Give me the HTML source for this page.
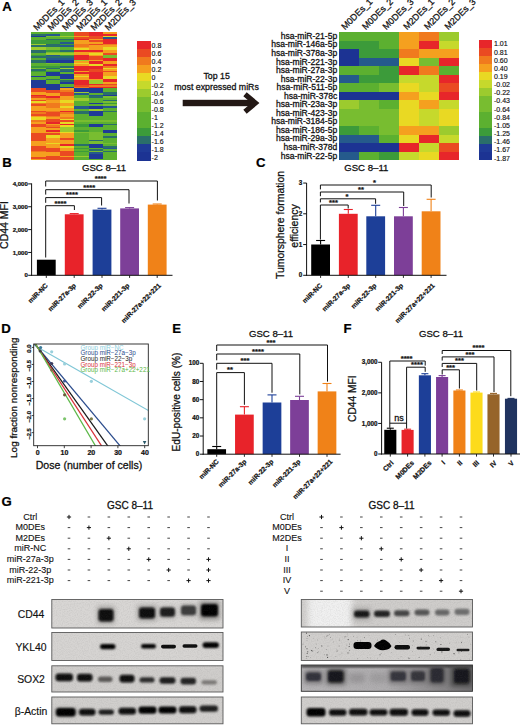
<!DOCTYPE html>
<html><head><meta charset="utf-8"><title>Figure</title>
<style>
html,body{margin:0;padding:0;background:#ffffff;}
body{width:520px;height:725px;overflow:hidden;font-family:"Liberation Sans",sans-serif;}
svg{display:block;}
svg text{font-family:"Liberation Sans",sans-serif;}
</style></head><body>
<svg width="520" height="725" viewBox="0 0 520 725">
<rect x="0" y="0" width="520" height="725" fill="#ffffff"/>
<g shape-rendering="crispEdges">
<rect x="31.30" y="32.30" width="14.52" height="1.75" fill="#5cb030" />
<rect x="45.62" y="32.30" width="14.52" height="1.75" fill="#5cb030" />
<rect x="59.93" y="32.30" width="14.52" height="1.75" fill="#5cb030" />
<rect x="74.25" y="32.30" width="14.52" height="1.75" fill="#ea4a22" />
<rect x="88.57" y="32.30" width="14.52" height="1.75" fill="#e7262a" />
<rect x="102.88" y="32.30" width="14.52" height="1.75" fill="#f5a01f" />
<rect x="31.30" y="33.90" width="14.52" height="1.75" fill="#2a6e6a" />
<rect x="45.62" y="33.90" width="14.52" height="1.75" fill="#255a8c" />
<rect x="59.93" y="33.90" width="14.52" height="1.75" fill="#5cb030" />
<rect x="74.25" y="33.90" width="14.52" height="1.75" fill="#ea4a22" />
<rect x="88.57" y="33.90" width="14.52" height="1.75" fill="#e7262a" />
<rect x="102.88" y="33.90" width="14.52" height="1.75" fill="#e7262a" />
<rect x="31.30" y="35.50" width="14.52" height="1.75" fill="#1f3a97" />
<rect x="45.62" y="35.50" width="14.52" height="1.75" fill="#78bd30" />
<rect x="59.93" y="35.50" width="14.52" height="1.75" fill="#9ccb2e" />
<rect x="74.25" y="35.50" width="14.52" height="1.75" fill="#f5a01f" />
<rect x="88.57" y="35.50" width="14.52" height="1.75" fill="#ea4a22" />
<rect x="102.88" y="35.50" width="14.52" height="1.75" fill="#e9d923" />
<rect x="31.30" y="37.10" width="14.52" height="1.75" fill="#5cb030" />
<rect x="45.62" y="37.10" width="14.52" height="1.75" fill="#5cb030" />
<rect x="59.93" y="37.10" width="14.52" height="1.75" fill="#5cb030" />
<rect x="74.25" y="37.10" width="14.52" height="1.75" fill="#ea4a22" />
<rect x="88.57" y="37.10" width="14.52" height="1.75" fill="#ea4a22" />
<rect x="102.88" y="37.10" width="14.52" height="1.75" fill="#255a8c" />
<rect x="31.30" y="38.70" width="14.52" height="1.75" fill="#5cb030" />
<rect x="45.62" y="38.70" width="14.52" height="1.75" fill="#2a6e6a" />
<rect x="59.93" y="38.70" width="14.52" height="1.75" fill="#2a6e6a" />
<rect x="74.25" y="38.70" width="14.52" height="1.75" fill="#e7262a" />
<rect x="88.57" y="38.70" width="14.52" height="1.75" fill="#f5a01f" />
<rect x="102.88" y="38.70" width="14.52" height="1.75" fill="#e7262a" />
<rect x="31.30" y="40.30" width="14.52" height="1.75" fill="#3c9b3a" />
<rect x="45.62" y="40.30" width="14.52" height="1.75" fill="#3c9b3a" />
<rect x="59.93" y="40.30" width="14.52" height="1.75" fill="#3c9b3a" />
<rect x="74.25" y="40.30" width="14.52" height="1.75" fill="#f5a01f" />
<rect x="88.57" y="40.30" width="14.52" height="1.75" fill="#ea4a22" />
<rect x="102.88" y="40.30" width="14.52" height="1.75" fill="#e7262a" />
<rect x="31.30" y="41.90" width="14.52" height="1.75" fill="#3c9b3a" />
<rect x="45.62" y="41.90" width="14.52" height="1.75" fill="#3c9b3a" />
<rect x="59.93" y="41.90" width="14.52" height="1.75" fill="#255a8c" />
<rect x="74.25" y="41.90" width="14.52" height="1.75" fill="#f5a01f" />
<rect x="88.57" y="41.90" width="14.52" height="1.75" fill="#f5a01f" />
<rect x="102.88" y="41.90" width="14.52" height="1.75" fill="#e7262a" />
<rect x="31.30" y="43.50" width="14.52" height="1.75" fill="#9ccb2e" />
<rect x="45.62" y="43.50" width="14.52" height="1.75" fill="#2a6e6a" />
<rect x="59.93" y="43.50" width="14.52" height="1.75" fill="#3c9b3a" />
<rect x="74.25" y="43.50" width="14.52" height="1.75" fill="#f07a1e" />
<rect x="88.57" y="43.50" width="14.52" height="1.75" fill="#ea4a22" />
<rect x="102.88" y="43.50" width="14.52" height="1.75" fill="#f07a1e" />
<rect x="31.30" y="45.10" width="14.52" height="1.75" fill="#2a6e6a" />
<rect x="45.62" y="45.10" width="14.52" height="1.75" fill="#2a6e6a" />
<rect x="59.93" y="45.10" width="14.52" height="1.75" fill="#255a8c" />
<rect x="74.25" y="45.10" width="14.52" height="1.75" fill="#f07a1e" />
<rect x="88.57" y="45.10" width="14.52" height="1.75" fill="#f5a01f" />
<rect x="102.88" y="45.10" width="14.52" height="1.75" fill="#f5a01f" />
<rect x="31.30" y="46.70" width="14.52" height="1.75" fill="#9ccb2e" />
<rect x="45.62" y="46.70" width="14.52" height="1.75" fill="#78bd30" />
<rect x="59.93" y="46.70" width="14.52" height="1.75" fill="#5cb030" />
<rect x="74.25" y="46.70" width="14.52" height="1.75" fill="#f5a01f" />
<rect x="88.57" y="46.70" width="14.52" height="1.75" fill="#f5a01f" />
<rect x="102.88" y="46.70" width="14.52" height="1.75" fill="#e9d923" />
<rect x="31.30" y="48.30" width="14.52" height="1.75" fill="#9ccb2e" />
<rect x="45.62" y="48.30" width="14.52" height="1.75" fill="#78bd30" />
<rect x="59.93" y="48.30" width="14.52" height="1.75" fill="#5cb030" />
<rect x="74.25" y="48.30" width="14.52" height="1.75" fill="#e9d923" />
<rect x="88.57" y="48.30" width="14.52" height="1.75" fill="#f5a01f" />
<rect x="102.88" y="48.30" width="14.52" height="1.75" fill="#e9d923" />
<rect x="31.30" y="49.90" width="14.52" height="1.75" fill="#2a6e6a" />
<rect x="45.62" y="49.90" width="14.52" height="1.75" fill="#3c9b3a" />
<rect x="59.93" y="49.90" width="14.52" height="1.75" fill="#2a6e6a" />
<rect x="74.25" y="49.90" width="14.52" height="1.75" fill="#e7262a" />
<rect x="88.57" y="49.90" width="14.52" height="1.75" fill="#e7262a" />
<rect x="102.88" y="49.90" width="14.52" height="1.75" fill="#f5a01f" />
<rect x="31.30" y="51.50" width="14.52" height="1.75" fill="#2a6e6a" />
<rect x="45.62" y="51.50" width="14.52" height="1.75" fill="#78bd30" />
<rect x="59.93" y="51.50" width="14.52" height="1.75" fill="#78bd30" />
<rect x="74.25" y="51.50" width="14.52" height="1.75" fill="#f5a01f" />
<rect x="88.57" y="51.50" width="14.52" height="1.75" fill="#f5a01f" />
<rect x="102.88" y="51.50" width="14.52" height="1.75" fill="#f5a01f" />
<rect x="31.30" y="53.10" width="14.52" height="1.75" fill="#5cb030" />
<rect x="45.62" y="53.10" width="14.52" height="1.75" fill="#9ccb2e" />
<rect x="59.93" y="53.10" width="14.52" height="1.75" fill="#9ccb2e" />
<rect x="74.25" y="53.10" width="14.52" height="1.75" fill="#f5a01f" />
<rect x="88.57" y="53.10" width="14.52" height="1.75" fill="#e9d923" />
<rect x="102.88" y="53.10" width="14.52" height="1.75" fill="#ea4a22" />
<rect x="31.30" y="54.70" width="14.52" height="1.75" fill="#3c9b3a" />
<rect x="45.62" y="54.70" width="14.52" height="1.75" fill="#255a8c" />
<rect x="59.93" y="54.70" width="14.52" height="1.75" fill="#3c9b3a" />
<rect x="74.25" y="54.70" width="14.52" height="1.75" fill="#e7262a" />
<rect x="88.57" y="54.70" width="14.52" height="1.75" fill="#f5a01f" />
<rect x="102.88" y="54.70" width="14.52" height="1.75" fill="#78bd30" />
<rect x="31.30" y="56.30" width="14.52" height="1.75" fill="#2a6e6a" />
<rect x="45.62" y="56.30" width="14.52" height="1.75" fill="#2a6e6a" />
<rect x="59.93" y="56.30" width="14.52" height="1.75" fill="#2a6e6a" />
<rect x="74.25" y="56.30" width="14.52" height="1.75" fill="#e7262a" />
<rect x="88.57" y="56.30" width="14.52" height="1.75" fill="#ea4a22" />
<rect x="102.88" y="56.30" width="14.52" height="1.75" fill="#78bd30" />
<rect x="31.30" y="57.90" width="14.52" height="1.75" fill="#5cb030" />
<rect x="45.62" y="57.90" width="14.52" height="1.75" fill="#255a8c" />
<rect x="59.93" y="57.90" width="14.52" height="1.75" fill="#255a8c" />
<rect x="74.25" y="57.90" width="14.52" height="1.75" fill="#e7262a" />
<rect x="88.57" y="57.90" width="14.52" height="1.75" fill="#ea4a22" />
<rect x="102.88" y="57.90" width="14.52" height="1.75" fill="#e7262a" />
<rect x="31.30" y="59.50" width="14.52" height="1.75" fill="#2a6e6a" />
<rect x="45.62" y="59.50" width="14.52" height="1.75" fill="#1f3a97" />
<rect x="59.93" y="59.50" width="14.52" height="1.75" fill="#1f3a97" />
<rect x="74.25" y="59.50" width="14.52" height="1.75" fill="#9ccb2e" />
<rect x="88.57" y="59.50" width="14.52" height="1.75" fill="#f5a01f" />
<rect x="102.88" y="59.50" width="14.52" height="1.75" fill="#e7262a" />
<rect x="31.30" y="61.10" width="14.52" height="1.75" fill="#2a6e6a" />
<rect x="45.62" y="61.10" width="14.52" height="1.75" fill="#1f3a97" />
<rect x="59.93" y="61.10" width="14.52" height="1.75" fill="#1f3a97" />
<rect x="74.25" y="61.10" width="14.52" height="1.75" fill="#f5a01f" />
<rect x="88.57" y="61.10" width="14.52" height="1.75" fill="#e7262a" />
<rect x="102.88" y="61.10" width="14.52" height="1.75" fill="#f5a01f" />
<rect x="31.30" y="62.70" width="14.52" height="1.75" fill="#5cb030" />
<rect x="45.62" y="62.70" width="14.52" height="1.75" fill="#78bd30" />
<rect x="59.93" y="62.70" width="14.52" height="1.75" fill="#5cb030" />
<rect x="74.25" y="62.70" width="14.52" height="1.75" fill="#e9d923" />
<rect x="88.57" y="62.70" width="14.52" height="1.75" fill="#e7262a" />
<rect x="102.88" y="62.70" width="14.52" height="1.75" fill="#f5a01f" />
<rect x="31.30" y="64.30" width="14.52" height="1.75" fill="#5cb030" />
<rect x="45.62" y="64.30" width="14.52" height="1.75" fill="#5cb030" />
<rect x="59.93" y="64.30" width="14.52" height="1.75" fill="#5cb030" />
<rect x="74.25" y="64.30" width="14.52" height="1.75" fill="#f5a01f" />
<rect x="88.57" y="64.30" width="14.52" height="1.75" fill="#e9d923" />
<rect x="102.88" y="64.30" width="14.52" height="1.75" fill="#e7262a" />
<rect x="31.30" y="65.90" width="14.52" height="1.75" fill="#3c9b3a" />
<rect x="45.62" y="65.90" width="14.52" height="1.75" fill="#3c9b3a" />
<rect x="59.93" y="65.90" width="14.52" height="1.75" fill="#2a6e6a" />
<rect x="74.25" y="65.90" width="14.52" height="1.75" fill="#e7262a" />
<rect x="88.57" y="65.90" width="14.52" height="1.75" fill="#e7262a" />
<rect x="102.88" y="65.90" width="14.52" height="1.75" fill="#f07a1e" />
<rect x="31.30" y="67.50" width="14.52" height="1.75" fill="#78bd30" />
<rect x="45.62" y="67.50" width="14.52" height="1.75" fill="#2a6e6a" />
<rect x="59.93" y="67.50" width="14.52" height="1.75" fill="#9ccb2e" />
<rect x="74.25" y="67.50" width="14.52" height="1.75" fill="#e7262a" />
<rect x="88.57" y="67.50" width="14.52" height="1.75" fill="#e7262a" />
<rect x="102.88" y="67.50" width="14.52" height="1.75" fill="#e9d923" />
<rect x="31.30" y="69.10" width="14.52" height="1.75" fill="#2a6e6a" />
<rect x="45.62" y="69.10" width="14.52" height="1.75" fill="#5cb030" />
<rect x="59.93" y="69.10" width="14.52" height="1.75" fill="#2a6e6a" />
<rect x="74.25" y="69.10" width="14.52" height="1.75" fill="#e7262a" />
<rect x="88.57" y="69.10" width="14.52" height="1.75" fill="#ea4a22" />
<rect x="102.88" y="69.10" width="14.52" height="1.75" fill="#f5a01f" />
<rect x="31.30" y="70.70" width="14.52" height="1.75" fill="#3c9b3a" />
<rect x="45.62" y="70.70" width="14.52" height="1.75" fill="#3c9b3a" />
<rect x="59.93" y="70.70" width="14.52" height="1.75" fill="#255a8c" />
<rect x="74.25" y="70.70" width="14.52" height="1.75" fill="#f5a01f" />
<rect x="88.57" y="70.70" width="14.52" height="1.75" fill="#ea4a22" />
<rect x="102.88" y="70.70" width="14.52" height="1.75" fill="#ea4a22" />
<rect x="31.30" y="72.30" width="14.52" height="1.75" fill="#5cb030" />
<rect x="45.62" y="72.30" width="14.52" height="1.75" fill="#1f3a97" />
<rect x="59.93" y="72.30" width="14.52" height="1.75" fill="#5cb030" />
<rect x="74.25" y="72.30" width="14.52" height="1.75" fill="#e7262a" />
<rect x="88.57" y="72.30" width="14.52" height="1.75" fill="#e7262a" />
<rect x="102.88" y="72.30" width="14.52" height="1.75" fill="#f5a01f" />
<rect x="31.30" y="73.90" width="14.52" height="1.75" fill="#5cb030" />
<rect x="45.62" y="73.90" width="14.52" height="1.75" fill="#1f3a97" />
<rect x="59.93" y="73.90" width="14.52" height="1.75" fill="#1f3a97" />
<rect x="74.25" y="73.90" width="14.52" height="1.75" fill="#f5a01f" />
<rect x="88.57" y="73.90" width="14.52" height="1.75" fill="#e7262a" />
<rect x="102.88" y="73.90" width="14.52" height="1.75" fill="#f5a01f" />
<rect x="31.30" y="75.50" width="14.52" height="1.75" fill="#1f3a97" />
<rect x="45.62" y="75.50" width="14.52" height="1.75" fill="#5cb030" />
<rect x="59.93" y="75.50" width="14.52" height="1.75" fill="#1f3a97" />
<rect x="74.25" y="75.50" width="14.52" height="1.75" fill="#e9d923" />
<rect x="88.57" y="75.50" width="14.52" height="1.75" fill="#e7262a" />
<rect x="102.88" y="75.50" width="14.52" height="1.75" fill="#e9d923" />
<rect x="31.30" y="77.10" width="14.52" height="1.75" fill="#5cb030" />
<rect x="45.62" y="77.10" width="14.52" height="1.75" fill="#5cb030" />
<rect x="59.93" y="77.10" width="14.52" height="1.75" fill="#1f3a97" />
<rect x="74.25" y="77.10" width="14.52" height="1.75" fill="#f5a01f" />
<rect x="88.57" y="77.10" width="14.52" height="1.75" fill="#e7262a" />
<rect x="102.88" y="77.10" width="14.52" height="1.75" fill="#e9d923" />
<rect x="31.30" y="78.70" width="14.52" height="1.75" fill="#5cb030" />
<rect x="45.62" y="78.70" width="14.52" height="1.75" fill="#2a6e6a" />
<rect x="59.93" y="78.70" width="14.52" height="1.75" fill="#5cb030" />
<rect x="74.25" y="78.70" width="14.52" height="1.75" fill="#f5a01f" />
<rect x="88.57" y="78.70" width="14.52" height="1.75" fill="#f5a01f" />
<rect x="102.88" y="78.70" width="14.52" height="1.75" fill="#e7262a" />
<rect x="31.30" y="80.30" width="14.52" height="1.75" fill="#1f3a97" />
<rect x="45.62" y="80.30" width="14.52" height="1.75" fill="#5cb030" />
<rect x="59.93" y="80.30" width="14.52" height="1.75" fill="#2a6e6a" />
<rect x="74.25" y="80.30" width="14.52" height="1.75" fill="#e7262a" />
<rect x="88.57" y="80.30" width="14.52" height="1.75" fill="#9ccb2e" />
<rect x="102.88" y="80.30" width="14.52" height="1.75" fill="#e7262a" />
<rect x="31.30" y="81.90" width="14.52" height="1.75" fill="#1f3a97" />
<rect x="45.62" y="81.90" width="14.52" height="1.75" fill="#5cb030" />
<rect x="59.93" y="81.90" width="14.52" height="1.75" fill="#1f3a97" />
<rect x="74.25" y="81.90" width="14.52" height="1.75" fill="#e7262a" />
<rect x="88.57" y="81.90" width="14.52" height="1.75" fill="#9ccb2e" />
<rect x="102.88" y="81.90" width="14.52" height="1.75" fill="#f5a01f" />
<rect x="31.30" y="83.50" width="14.52" height="1.75" fill="#1f3a97" />
<rect x="45.62" y="83.50" width="14.52" height="1.75" fill="#1f3a97" />
<rect x="59.93" y="83.50" width="14.52" height="1.75" fill="#5cb030" />
<rect x="74.25" y="83.50" width="14.52" height="1.75" fill="#e7262a" />
<rect x="88.57" y="83.50" width="14.52" height="1.75" fill="#e7262a" />
<rect x="102.88" y="83.50" width="14.52" height="1.75" fill="#ea4a22" />
<rect x="31.30" y="85.10" width="14.52" height="1.75" fill="#1f3a97" />
<rect x="45.62" y="85.10" width="14.52" height="1.75" fill="#1f3a97" />
<rect x="59.93" y="85.10" width="14.52" height="1.75" fill="#5cb030" />
<rect x="74.25" y="85.10" width="14.52" height="1.75" fill="#ea4a22" />
<rect x="88.57" y="85.10" width="14.52" height="1.75" fill="#f07a1e" />
<rect x="102.88" y="85.10" width="14.52" height="1.75" fill="#f07a1e" />
<rect x="31.30" y="86.70" width="14.52" height="1.75" fill="#1f3a97" />
<rect x="45.62" y="86.70" width="14.52" height="1.75" fill="#1f3a97" />
<rect x="59.93" y="86.70" width="14.52" height="1.75" fill="#1f3a97" />
<rect x="74.25" y="86.70" width="14.52" height="1.75" fill="#f07a1e" />
<rect x="88.57" y="86.70" width="14.52" height="1.75" fill="#e7262a" />
<rect x="102.88" y="86.70" width="14.52" height="1.75" fill="#e7262a" />
<rect x="31.30" y="88.30" width="14.52" height="1.75" fill="#ea4a22" />
<rect x="45.62" y="88.30" width="14.52" height="1.75" fill="#1f3a97" />
<rect x="59.93" y="88.30" width="14.52" height="1.75" fill="#f5a01f" />
<rect x="74.25" y="88.30" width="14.52" height="1.75" fill="#1f3a97" />
<rect x="88.57" y="88.30" width="14.52" height="1.75" fill="#1f3a97" />
<rect x="102.88" y="88.30" width="14.52" height="1.75" fill="#5cb030" />
<rect x="31.30" y="89.90" width="14.52" height="1.75" fill="#ea4a22" />
<rect x="45.62" y="89.90" width="14.52" height="1.75" fill="#ea4a22" />
<rect x="59.93" y="89.90" width="14.52" height="1.75" fill="#f07a1e" />
<rect x="74.25" y="89.90" width="14.52" height="1.75" fill="#1f3a97" />
<rect x="88.57" y="89.90" width="14.52" height="1.75" fill="#1f3a97" />
<rect x="102.88" y="89.90" width="14.52" height="1.75" fill="#5cb030" />
<rect x="31.30" y="91.50" width="14.52" height="1.75" fill="#f5a01f" />
<rect x="45.62" y="91.50" width="14.52" height="1.75" fill="#ea4a22" />
<rect x="59.93" y="91.50" width="14.52" height="1.75" fill="#ea4a22" />
<rect x="74.25" y="91.50" width="14.52" height="1.75" fill="#9ccb2e" />
<rect x="88.57" y="91.50" width="14.52" height="1.75" fill="#1f3a97" />
<rect x="102.88" y="91.50" width="14.52" height="1.75" fill="#2a6e6a" />
<rect x="31.30" y="93.10" width="14.52" height="1.75" fill="#f5a01f" />
<rect x="45.62" y="93.10" width="14.52" height="1.75" fill="#f5a01f" />
<rect x="59.93" y="93.10" width="14.52" height="1.75" fill="#ea4a22" />
<rect x="74.25" y="93.10" width="14.52" height="1.75" fill="#255a8c" />
<rect x="88.57" y="93.10" width="14.52" height="1.75" fill="#5cb030" />
<rect x="102.88" y="93.10" width="14.52" height="1.75" fill="#2a6e6a" />
<rect x="31.30" y="94.70" width="14.52" height="1.75" fill="#e7262a" />
<rect x="45.62" y="94.70" width="14.52" height="1.75" fill="#f5a01f" />
<rect x="59.93" y="94.70" width="14.52" height="1.75" fill="#ea4a22" />
<rect x="74.25" y="94.70" width="14.52" height="1.75" fill="#5cb030" />
<rect x="88.57" y="94.70" width="14.52" height="1.75" fill="#255a8c" />
<rect x="102.88" y="94.70" width="14.52" height="1.75" fill="#1f3a97" />
<rect x="31.30" y="96.30" width="14.52" height="1.75" fill="#ea4a22" />
<rect x="45.62" y="96.30" width="14.52" height="1.75" fill="#e7262a" />
<rect x="59.93" y="96.30" width="14.52" height="1.75" fill="#f5a01f" />
<rect x="74.25" y="96.30" width="14.52" height="1.75" fill="#5cb030" />
<rect x="88.57" y="96.30" width="14.52" height="1.75" fill="#2a6e6a" />
<rect x="102.88" y="96.30" width="14.52" height="1.75" fill="#78bd30" />
<rect x="31.30" y="97.90" width="14.52" height="1.75" fill="#f5a01f" />
<rect x="45.62" y="97.90" width="14.52" height="1.75" fill="#f07a1e" />
<rect x="59.93" y="97.90" width="14.52" height="1.75" fill="#f5a01f" />
<rect x="74.25" y="97.90" width="14.52" height="1.75" fill="#9ccb2e" />
<rect x="88.57" y="97.90" width="14.52" height="1.75" fill="#5cb030" />
<rect x="102.88" y="97.90" width="14.52" height="1.75" fill="#5cb030" />
<rect x="31.30" y="99.50" width="14.52" height="1.75" fill="#ea4a22" />
<rect x="45.62" y="99.50" width="14.52" height="1.75" fill="#f5a01f" />
<rect x="59.93" y="99.50" width="14.52" height="1.75" fill="#e9d923" />
<rect x="74.25" y="99.50" width="14.52" height="1.75" fill="#9ccb2e" />
<rect x="88.57" y="99.50" width="14.52" height="1.75" fill="#5cb030" />
<rect x="102.88" y="99.50" width="14.52" height="1.75" fill="#2a6e6a" />
<rect x="31.30" y="101.10" width="14.52" height="1.75" fill="#e9d923" />
<rect x="45.62" y="101.10" width="14.52" height="1.75" fill="#f5a01f" />
<rect x="59.93" y="101.10" width="14.52" height="1.75" fill="#e9d923" />
<rect x="74.25" y="101.10" width="14.52" height="1.75" fill="#5cb030" />
<rect x="88.57" y="101.10" width="14.52" height="1.75" fill="#5cb030" />
<rect x="102.88" y="101.10" width="14.52" height="1.75" fill="#78bd30" />
<rect x="31.30" y="102.70" width="14.52" height="1.75" fill="#f07a1e" />
<rect x="45.62" y="102.70" width="14.52" height="1.75" fill="#f07a1e" />
<rect x="59.93" y="102.70" width="14.52" height="1.75" fill="#f5a01f" />
<rect x="74.25" y="102.70" width="14.52" height="1.75" fill="#5cb030" />
<rect x="88.57" y="102.70" width="14.52" height="1.75" fill="#1f3a97" />
<rect x="102.88" y="102.70" width="14.52" height="1.75" fill="#3c9b3a" />
<rect x="31.30" y="104.30" width="14.52" height="1.75" fill="#ea4a22" />
<rect x="45.62" y="104.30" width="14.52" height="1.75" fill="#f07a1e" />
<rect x="59.93" y="104.30" width="14.52" height="1.75" fill="#f5a01f" />
<rect x="74.25" y="104.30" width="14.52" height="1.75" fill="#5cb030" />
<rect x="88.57" y="104.30" width="14.52" height="1.75" fill="#5cb030" />
<rect x="102.88" y="104.30" width="14.52" height="1.75" fill="#78bd30" />
<rect x="31.30" y="105.90" width="14.52" height="1.75" fill="#f5a01f" />
<rect x="45.62" y="105.90" width="14.52" height="1.75" fill="#f07a1e" />
<rect x="59.93" y="105.90" width="14.52" height="1.75" fill="#e9d923" />
<rect x="74.25" y="105.90" width="14.52" height="1.75" fill="#255a8c" />
<rect x="88.57" y="105.90" width="14.52" height="1.75" fill="#1f3a97" />
<rect x="102.88" y="105.90" width="14.52" height="1.75" fill="#255a8c" />
<rect x="31.30" y="107.50" width="14.52" height="1.75" fill="#f5a01f" />
<rect x="45.62" y="107.50" width="14.52" height="1.75" fill="#f5a01f" />
<rect x="59.93" y="107.50" width="14.52" height="1.75" fill="#f5a01f" />
<rect x="74.25" y="107.50" width="14.52" height="1.75" fill="#255a8c" />
<rect x="88.57" y="107.50" width="14.52" height="1.75" fill="#1f3a97" />
<rect x="102.88" y="107.50" width="14.52" height="1.75" fill="#5cb030" />
<rect x="31.30" y="109.10" width="14.52" height="1.75" fill="#f5a01f" />
<rect x="45.62" y="109.10" width="14.52" height="1.75" fill="#f5a01f" />
<rect x="59.93" y="109.10" width="14.52" height="1.75" fill="#f5a01f" />
<rect x="74.25" y="109.10" width="14.52" height="1.75" fill="#5cb030" />
<rect x="88.57" y="109.10" width="14.52" height="1.75" fill="#9ccb2e" />
<rect x="102.88" y="109.10" width="14.52" height="1.75" fill="#5cb030" />
<rect x="31.30" y="110.70" width="14.52" height="1.75" fill="#ea4a22" />
<rect x="45.62" y="110.70" width="14.52" height="1.75" fill="#f07a1e" />
<rect x="59.93" y="110.70" width="14.52" height="1.75" fill="#e7262a" />
<rect x="74.25" y="110.70" width="14.52" height="1.75" fill="#2a6e6a" />
<rect x="88.57" y="110.70" width="14.52" height="1.75" fill="#1f3a97" />
<rect x="102.88" y="110.70" width="14.52" height="1.75" fill="#2a6e6a" />
<rect x="31.30" y="112.30" width="14.52" height="1.75" fill="#f07a1e" />
<rect x="45.62" y="112.30" width="14.52" height="1.75" fill="#ea4a22" />
<rect x="59.93" y="112.30" width="14.52" height="1.75" fill="#f07a1e" />
<rect x="74.25" y="112.30" width="14.52" height="1.75" fill="#2a6e6a" />
<rect x="88.57" y="112.30" width="14.52" height="1.75" fill="#1f3a97" />
<rect x="102.88" y="112.30" width="14.52" height="1.75" fill="#5cb030" />
<rect x="31.30" y="113.90" width="14.52" height="1.75" fill="#ea4a22" />
<rect x="45.62" y="113.90" width="14.52" height="1.75" fill="#ea4a22" />
<rect x="59.93" y="113.90" width="14.52" height="1.75" fill="#f5a01f" />
<rect x="74.25" y="113.90" width="14.52" height="1.75" fill="#5cb030" />
<rect x="88.57" y="113.90" width="14.52" height="1.75" fill="#1f3a97" />
<rect x="102.88" y="113.90" width="14.52" height="1.75" fill="#5cb030" />
<rect x="31.30" y="115.50" width="14.52" height="1.75" fill="#f5a01f" />
<rect x="45.62" y="115.50" width="14.52" height="1.75" fill="#f07a1e" />
<rect x="59.93" y="115.50" width="14.52" height="1.75" fill="#f5a01f" />
<rect x="74.25" y="115.50" width="14.52" height="1.75" fill="#5cb030" />
<rect x="88.57" y="115.50" width="14.52" height="1.75" fill="#5cb030" />
<rect x="102.88" y="115.50" width="14.52" height="1.75" fill="#5cb030" />
<rect x="31.30" y="117.10" width="14.52" height="1.75" fill="#e9d923" />
<rect x="45.62" y="117.10" width="14.52" height="1.75" fill="#f5a01f" />
<rect x="59.93" y="117.10" width="14.52" height="1.75" fill="#f07a1e" />
<rect x="74.25" y="117.10" width="14.52" height="1.75" fill="#5cb030" />
<rect x="88.57" y="117.10" width="14.52" height="1.75" fill="#5cb030" />
<rect x="102.88" y="117.10" width="14.52" height="1.75" fill="#5cb030" />
<rect x="31.30" y="118.70" width="14.52" height="1.75" fill="#e9d923" />
<rect x="45.62" y="118.70" width="14.52" height="1.75" fill="#ea4a22" />
<rect x="59.93" y="118.70" width="14.52" height="1.75" fill="#e9d923" />
<rect x="74.25" y="118.70" width="14.52" height="1.75" fill="#5cb030" />
<rect x="88.57" y="118.70" width="14.52" height="1.75" fill="#5cb030" />
<rect x="102.88" y="118.70" width="14.52" height="1.75" fill="#5cb030" />
<rect x="31.30" y="120.30" width="14.52" height="1.75" fill="#f07a1e" />
<rect x="45.62" y="120.30" width="14.52" height="1.75" fill="#ea4a22" />
<rect x="59.93" y="120.30" width="14.52" height="1.75" fill="#ea4a22" />
<rect x="74.25" y="120.30" width="14.52" height="1.75" fill="#78bd30" />
<rect x="88.57" y="120.30" width="14.52" height="1.75" fill="#78bd30" />
<rect x="102.88" y="120.30" width="14.52" height="1.75" fill="#78bd30" />
<rect x="31.30" y="121.90" width="14.52" height="1.75" fill="#f5a01f" />
<rect x="45.62" y="121.90" width="14.52" height="1.75" fill="#e7262a" />
<rect x="59.93" y="121.90" width="14.52" height="1.75" fill="#e9d923" />
<rect x="74.25" y="121.90" width="14.52" height="1.75" fill="#5cb030" />
<rect x="88.57" y="121.90" width="14.52" height="1.75" fill="#5cb030" />
<rect x="102.88" y="121.90" width="14.52" height="1.75" fill="#5cb030" />
<rect x="31.30" y="123.50" width="14.52" height="1.75" fill="#ea4a22" />
<rect x="45.62" y="123.50" width="14.52" height="1.75" fill="#f5a01f" />
<rect x="59.93" y="123.50" width="14.52" height="1.75" fill="#e7262a" />
<rect x="74.25" y="123.50" width="14.52" height="1.75" fill="#3c9b3a" />
<rect x="88.57" y="123.50" width="14.52" height="1.75" fill="#1f3a97" />
<rect x="102.88" y="123.50" width="14.52" height="1.75" fill="#2a6e6a" />
<rect x="31.30" y="125.10" width="14.52" height="1.75" fill="#ea4a22" />
<rect x="45.62" y="125.10" width="14.52" height="1.75" fill="#f07a1e" />
<rect x="59.93" y="125.10" width="14.52" height="1.75" fill="#e9d923" />
<rect x="74.25" y="125.10" width="14.52" height="1.75" fill="#3c9b3a" />
<rect x="88.57" y="125.10" width="14.52" height="1.75" fill="#1f3a97" />
<rect x="102.88" y="125.10" width="14.52" height="1.75" fill="#5cb030" />
<rect x="31.30" y="126.70" width="14.52" height="1.75" fill="#f5a01f" />
<rect x="45.62" y="126.70" width="14.52" height="1.75" fill="#ea4a22" />
<rect x="59.93" y="126.70" width="14.52" height="1.75" fill="#9ccb2e" />
<rect x="74.25" y="126.70" width="14.52" height="1.75" fill="#5cb030" />
<rect x="88.57" y="126.70" width="14.52" height="1.75" fill="#5cb030" />
<rect x="102.88" y="126.70" width="14.52" height="1.75" fill="#5cb030" />
<rect x="31.30" y="128.30" width="14.52" height="1.75" fill="#f5a01f" />
<rect x="45.62" y="128.30" width="14.52" height="1.75" fill="#f5a01f" />
<rect x="59.93" y="128.30" width="14.52" height="1.75" fill="#9ccb2e" />
<rect x="74.25" y="128.30" width="14.52" height="1.75" fill="#5cb030" />
<rect x="88.57" y="128.30" width="14.52" height="1.75" fill="#5cb030" />
<rect x="102.88" y="128.30" width="14.52" height="1.75" fill="#5cb030" />
<rect x="31.30" y="129.90" width="14.52" height="1.75" fill="#f5a01f" />
<rect x="45.62" y="129.90" width="14.52" height="1.75" fill="#e7262a" />
<rect x="59.93" y="129.90" width="14.52" height="1.75" fill="#9ccb2e" />
<rect x="74.25" y="129.90" width="14.52" height="1.75" fill="#3c9b3a" />
<rect x="88.57" y="129.90" width="14.52" height="1.75" fill="#5cb030" />
<rect x="102.88" y="129.90" width="14.52" height="1.75" fill="#1f3a97" />
<rect x="31.30" y="131.50" width="14.52" height="1.75" fill="#f5a01f" />
<rect x="45.62" y="131.50" width="14.52" height="1.75" fill="#f5a01f" />
<rect x="59.93" y="131.50" width="14.52" height="1.75" fill="#e9d923" />
<rect x="74.25" y="131.50" width="14.52" height="1.75" fill="#78bd30" />
<rect x="88.57" y="131.50" width="14.52" height="1.75" fill="#78bd30" />
<rect x="102.88" y="131.50" width="14.52" height="1.75" fill="#1f3a97" />
<rect x="31.30" y="133.10" width="14.52" height="1.75" fill="#ea4a22" />
<rect x="45.62" y="133.10" width="14.52" height="1.75" fill="#ea4a22" />
<rect x="59.93" y="133.10" width="14.52" height="1.75" fill="#f5a01f" />
<rect x="74.25" y="133.10" width="14.52" height="1.75" fill="#5cb030" />
<rect x="88.57" y="133.10" width="14.52" height="1.75" fill="#78bd30" />
<rect x="102.88" y="133.10" width="14.52" height="1.75" fill="#5cb030" />
<rect x="31.30" y="134.70" width="14.52" height="1.75" fill="#ea4a22" />
<rect x="45.62" y="134.70" width="14.52" height="1.75" fill="#e9d923" />
<rect x="59.93" y="134.70" width="14.52" height="1.75" fill="#f5a01f" />
<rect x="74.25" y="134.70" width="14.52" height="1.75" fill="#5cb030" />
<rect x="88.57" y="134.70" width="14.52" height="1.75" fill="#78bd30" />
<rect x="102.88" y="134.70" width="14.52" height="1.75" fill="#5cb030" />
<rect x="31.30" y="136.30" width="14.52" height="1.75" fill="#ea4a22" />
<rect x="45.62" y="136.30" width="14.52" height="1.75" fill="#e9d923" />
<rect x="59.93" y="136.30" width="14.52" height="1.75" fill="#f5a01f" />
<rect x="74.25" y="136.30" width="14.52" height="1.75" fill="#5cb030" />
<rect x="88.57" y="136.30" width="14.52" height="1.75" fill="#78bd30" />
<rect x="102.88" y="136.30" width="14.52" height="1.75" fill="#2a6e6a" />
<rect x="31.30" y="137.90" width="14.52" height="1.75" fill="#ea4a22" />
<rect x="45.62" y="137.90" width="14.52" height="1.75" fill="#f5a01f" />
<rect x="59.93" y="137.90" width="14.52" height="1.75" fill="#ea4a22" />
<rect x="74.25" y="137.90" width="14.52" height="1.75" fill="#5cb030" />
<rect x="88.57" y="137.90" width="14.52" height="1.75" fill="#78bd30" />
<rect x="102.88" y="137.90" width="14.52" height="1.75" fill="#5cb030" />
<rect x="31.30" y="139.50" width="14.52" height="1.75" fill="#ea4a22" />
<rect x="45.62" y="139.50" width="14.52" height="1.75" fill="#f5a01f" />
<rect x="59.93" y="139.50" width="14.52" height="1.75" fill="#f5a01f" />
<rect x="74.25" y="139.50" width="14.52" height="1.75" fill="#5cb030" />
<rect x="88.57" y="139.50" width="14.52" height="1.75" fill="#2a6e6a" />
<rect x="102.88" y="139.50" width="14.52" height="1.75" fill="#5cb030" />
<rect x="31.30" y="141.10" width="14.52" height="1.75" fill="#f5a01f" />
<rect x="45.62" y="141.10" width="14.52" height="1.75" fill="#f5a01f" />
<rect x="59.93" y="141.10" width="14.52" height="1.75" fill="#f5a01f" />
<rect x="74.25" y="141.10" width="14.52" height="1.75" fill="#5cb030" />
<rect x="88.57" y="141.10" width="14.52" height="1.75" fill="#78bd30" />
<rect x="102.88" y="141.10" width="14.52" height="1.75" fill="#5cb030" />
<rect x="31.30" y="142.70" width="14.52" height="1.75" fill="#f5a01f" />
<rect x="45.62" y="142.70" width="14.52" height="1.75" fill="#e9d923" />
<rect x="59.93" y="142.70" width="14.52" height="1.75" fill="#f5a01f" />
<rect x="74.25" y="142.70" width="14.52" height="1.75" fill="#5cb030" />
<rect x="88.57" y="142.70" width="14.52" height="1.75" fill="#78bd30" />
<rect x="102.88" y="142.70" width="14.52" height="1.75" fill="#78bd30" />
<rect x="31.30" y="144.30" width="14.52" height="1.75" fill="#f5a01f" />
<rect x="45.62" y="144.30" width="14.52" height="1.75" fill="#f5a01f" />
<rect x="59.93" y="144.30" width="14.52" height="1.75" fill="#e7262a" />
<rect x="74.25" y="144.30" width="14.52" height="1.75" fill="#2a6e6a" />
<rect x="88.57" y="144.30" width="14.52" height="1.75" fill="#1f3a97" />
<rect x="102.88" y="144.30" width="14.52" height="1.75" fill="#5cb030" />
<rect x="31.30" y="145.90" width="14.52" height="1.75" fill="#ea4a22" />
<rect x="45.62" y="145.90" width="14.52" height="1.75" fill="#f5a01f" />
<rect x="59.93" y="145.90" width="14.52" height="1.75" fill="#e9d923" />
<rect x="74.25" y="145.90" width="14.52" height="1.75" fill="#5cb030" />
<rect x="88.57" y="145.90" width="14.52" height="1.75" fill="#1f3a97" />
<rect x="102.88" y="145.90" width="14.52" height="1.75" fill="#2a6e6a" />
<rect x="31.30" y="147.50" width="14.52" height="1.75" fill="#ea4a22" />
<rect x="45.62" y="147.50" width="14.52" height="1.75" fill="#ea4a22" />
<rect x="59.93" y="147.50" width="14.52" height="1.75" fill="#f5a01f" />
<rect x="74.25" y="147.50" width="14.52" height="1.75" fill="#3c9b3a" />
<rect x="88.57" y="147.50" width="14.52" height="1.75" fill="#5cb030" />
<rect x="102.88" y="147.50" width="14.52" height="1.75" fill="#255a8c" />
<rect x="31.30" y="149.10" width="14.52" height="1.75" fill="#ea4a22" />
<rect x="45.62" y="149.10" width="14.52" height="1.75" fill="#ea4a22" />
<rect x="59.93" y="149.10" width="14.52" height="1.75" fill="#f5a01f" />
<rect x="74.25" y="149.10" width="14.52" height="1.75" fill="#5cb030" />
<rect x="88.57" y="149.10" width="14.52" height="1.75" fill="#2a6e6a" />
<rect x="102.88" y="149.10" width="14.52" height="1.75" fill="#5cb030" />
<rect x="31.30" y="150.70" width="14.52" height="1.75" fill="#f07a1e" />
<rect x="45.62" y="150.70" width="14.52" height="1.75" fill="#ea4a22" />
<rect x="59.93" y="150.70" width="14.52" height="1.75" fill="#ea4a22" />
<rect x="74.25" y="150.70" width="14.52" height="1.75" fill="#3c9b3a" />
<rect x="88.57" y="150.70" width="14.52" height="1.75" fill="#78bd30" />
<rect x="102.88" y="150.70" width="14.52" height="1.75" fill="#2a6e6a" />
<rect x="31.30" y="152.30" width="14.52" height="1.75" fill="#f5a01f" />
<rect x="45.62" y="152.30" width="14.52" height="1.75" fill="#f5a01f" />
<rect x="59.93" y="152.30" width="14.52" height="1.75" fill="#ea4a22" />
<rect x="74.25" y="152.30" width="14.52" height="1.75" fill="#5cb030" />
<rect x="88.57" y="152.30" width="14.52" height="1.75" fill="#255a8c" />
<rect x="102.88" y="152.30" width="14.52" height="1.75" fill="#5cb030" />
<rect x="31.30" y="153.90" width="14.52" height="1.75" fill="#f5a01f" />
<rect x="45.62" y="153.90" width="14.52" height="1.75" fill="#f5a01f" />
<rect x="59.93" y="153.90" width="14.52" height="1.75" fill="#ea4a22" />
<rect x="74.25" y="153.90" width="14.52" height="1.75" fill="#5cb030" />
<rect x="88.57" y="153.90" width="14.52" height="1.75" fill="#1f3a97" />
<rect x="102.88" y="153.90" width="14.52" height="1.75" fill="#5cb030" />
<rect x="31.30" y="155.50" width="14.52" height="1.75" fill="#f5a01f" />
<rect x="45.62" y="155.50" width="14.52" height="1.75" fill="#ea4a22" />
<rect x="59.93" y="155.50" width="14.52" height="1.75" fill="#f5a01f" />
<rect x="74.25" y="155.50" width="14.52" height="1.75" fill="#9ccb2e" />
<rect x="88.57" y="155.50" width="14.52" height="1.75" fill="#1f3a97" />
<rect x="102.88" y="155.50" width="14.52" height="1.75" fill="#5cb030" />
<rect x="31.30" y="157.10" width="14.52" height="1.75" fill="#ea4a22" />
<rect x="45.62" y="157.10" width="14.52" height="1.75" fill="#ea4a22" />
<rect x="59.93" y="157.10" width="14.52" height="1.75" fill="#ea4a22" />
<rect x="74.25" y="157.10" width="14.52" height="1.75" fill="#5cb030" />
<rect x="88.57" y="157.10" width="14.52" height="1.75" fill="#1f3a97" />
<rect x="102.88" y="157.10" width="14.52" height="1.75" fill="#5cb030" />
<rect x="31.30" y="158.70" width="14.52" height="1.75" fill="#f5a01f" />
<rect x="45.62" y="158.70" width="14.52" height="1.75" fill="#ea4a22" />
<rect x="59.93" y="158.70" width="14.52" height="1.75" fill="#ea4a22" />
<rect x="74.25" y="158.70" width="14.52" height="1.75" fill="#5cb030" />
<rect x="88.57" y="158.70" width="14.52" height="1.75" fill="#5cb030" />
<rect x="102.88" y="158.70" width="14.52" height="1.75" fill="#5cb030" />
</g>
<text x="37.0" y="31.0" font-size="9" text-anchor="start" transform="rotate(-45 37.0 31.0)" fill="#111" stroke="#111" stroke-width="0.28" >M0DEs_1</text>
<text x="51.32" y="31.0" font-size="9" text-anchor="start" transform="rotate(-45 51.32 31.0)" fill="#111" stroke="#111" stroke-width="0.28" >M0DEs_2</text>
<text x="65.63" y="31.0" font-size="9" text-anchor="start" transform="rotate(-45 65.63 31.0)" fill="#111" stroke="#111" stroke-width="0.28" >M0DEs_3</text>
<text x="79.95" y="31.0" font-size="9" text-anchor="start" transform="rotate(-45 79.95 31.0)" fill="#111" stroke="#111" stroke-width="0.28" >M2DEs_1</text>
<text x="94.27" y="31.0" font-size="9" text-anchor="start" transform="rotate(-45 94.27 31.0)" fill="#111" stroke="#111" stroke-width="0.28" >M2DEs_2</text>
<text x="108.58" y="31.0" font-size="9" text-anchor="start" transform="rotate(-45 108.58 31.0)" fill="#111" stroke="#111" stroke-width="0.28" >M2DEs_3</text>
<g shape-rendering="crispEdges">
<rect x="136.60" y="40.60" width="14.40" height="8.19" fill="#e7262a" />
<rect x="136.60" y="48.59" width="14.40" height="8.19" fill="#ea4a22" />
<rect x="136.60" y="56.57" width="14.40" height="8.19" fill="#f07a1e" />
<rect x="136.60" y="64.56" width="14.40" height="8.19" fill="#f5a01f" />
<rect x="136.60" y="72.55" width="14.40" height="8.19" fill="#e9d923" />
<rect x="136.60" y="80.53" width="14.40" height="8.19" fill="#c6d92c" />
<rect x="136.60" y="88.52" width="14.40" height="8.19" fill="#9ccb2e" />
<rect x="136.60" y="96.51" width="14.40" height="8.19" fill="#78bd30" />
<rect x="136.60" y="104.49" width="14.40" height="8.19" fill="#78bd30" />
<rect x="136.60" y="112.48" width="14.40" height="8.19" fill="#5cb030" />
<rect x="136.60" y="120.47" width="14.40" height="8.19" fill="#5cb030" />
<rect x="136.60" y="128.45" width="14.40" height="8.19" fill="#3c9b3a" />
<rect x="136.60" y="136.44" width="14.40" height="8.19" fill="#2a6e6a" />
<rect x="136.60" y="144.43" width="14.40" height="8.19" fill="#1f3a97" />
<rect x="136.60" y="152.41" width="14.40" height="8.19" fill="#1c3393" />
</g>
<text x="151.6" y="48.4" font-size="7" text-anchor="start" fill="#111" stroke="#111" stroke-width="0.15" >0.8</text>
<text x="151.6" y="56.34" font-size="7" text-anchor="start" fill="#111" stroke="#111" stroke-width="0.15" >0.6</text>
<text x="151.6" y="64.28" font-size="7" text-anchor="start" fill="#111" stroke="#111" stroke-width="0.15" >0.4</text>
<text x="151.6" y="72.22" font-size="7" text-anchor="start" fill="#111" stroke="#111" stroke-width="0.15" >0.2</text>
<text x="151.6" y="80.16" font-size="7" text-anchor="start" fill="#111" stroke="#111" stroke-width="0.15" >0</text>
<text x="151.6" y="88.1" font-size="7" text-anchor="start" fill="#111" stroke="#111" stroke-width="0.15" >-0.2</text>
<text x="151.6" y="96.04" font-size="7" text-anchor="start" fill="#111" stroke="#111" stroke-width="0.15" >-0.4</text>
<text x="151.6" y="103.98" font-size="7" text-anchor="start" fill="#111" stroke="#111" stroke-width="0.15" >-0.6</text>
<text x="151.6" y="111.92" font-size="7" text-anchor="start" fill="#111" stroke="#111" stroke-width="0.15" >-0.8</text>
<text x="151.6" y="119.86" font-size="7" text-anchor="start" fill="#111" stroke="#111" stroke-width="0.15" >-1</text>
<text x="151.6" y="127.8" font-size="7" text-anchor="start" fill="#111" stroke="#111" stroke-width="0.15" >-1.2</text>
<text x="151.6" y="135.74" font-size="7" text-anchor="start" fill="#111" stroke="#111" stroke-width="0.15" >-1.4</text>
<text x="151.6" y="143.68" font-size="7" text-anchor="start" fill="#111" stroke="#111" stroke-width="0.15" >-1.6</text>
<text x="151.6" y="151.62" font-size="7" text-anchor="start" fill="#111" stroke="#111" stroke-width="0.15" >-1.8</text>
<text x="151.6" y="159.56" font-size="7" text-anchor="start" fill="#111" stroke="#111" stroke-width="0.15" >-2</text>
<text x="216.6" y="79" font-size="8.8" text-anchor="middle" fill="#111" stroke="#111" stroke-width="0.28" >Top 15</text>
<text x="216.6" y="90" font-size="8.8" text-anchor="middle" fill="#111" stroke="#111" stroke-width="0.28" >most expressed miRs</text>
<rect x="182.70" y="99.80" width="70.00" height="6.40" fill="#231815" />
<path d="M245 94.3 L255.4 103 L245 111.7" stroke="#231815" stroke-width="5.2" fill="none" stroke-linejoin="miter" stroke-linecap="butt"/>
<g shape-rendering="crispEdges">
<rect x="339.40" y="32.00" width="20.08" height="8.75" fill="#5cb030" />
<rect x="359.28" y="32.00" width="20.08" height="8.75" fill="#5cb030" />
<rect x="379.17" y="32.00" width="20.08" height="8.75" fill="#5cb030" />
<rect x="399.05" y="32.00" width="20.08" height="8.75" fill="#f5a01f" />
<rect x="418.93" y="32.00" width="20.08" height="8.75" fill="#f07a1e" />
<rect x="438.82" y="32.00" width="20.08" height="8.75" fill="#9ccb2e" />
<rect x="339.40" y="40.55" width="20.08" height="8.75" fill="#3c9b3a" />
<rect x="359.28" y="40.55" width="20.08" height="8.75" fill="#3c9b3a" />
<rect x="379.17" y="40.55" width="20.08" height="8.75" fill="#5cb030" />
<rect x="399.05" y="40.55" width="20.08" height="8.75" fill="#f5a01f" />
<rect x="418.93" y="40.55" width="20.08" height="8.75" fill="#e7262a" />
<rect x="438.82" y="40.55" width="20.08" height="8.75" fill="#c6d92c" />
<rect x="339.40" y="49.09" width="20.08" height="8.75" fill="#1c3393" />
<rect x="359.28" y="49.09" width="20.08" height="8.75" fill="#3c9b3a" />
<rect x="379.17" y="49.09" width="20.08" height="8.75" fill="#3c9b3a" />
<rect x="399.05" y="49.09" width="20.08" height="8.75" fill="#f07a1e" />
<rect x="418.93" y="49.09" width="20.08" height="8.75" fill="#f5a01f" />
<rect x="438.82" y="49.09" width="20.08" height="8.75" fill="#f5a01f" />
<rect x="339.40" y="57.64" width="20.08" height="8.75" fill="#1c3393" />
<rect x="359.28" y="57.64" width="20.08" height="8.75" fill="#255a8c" />
<rect x="379.17" y="57.64" width="20.08" height="8.75" fill="#255a8c" />
<rect x="399.05" y="57.64" width="20.08" height="8.75" fill="#e9d923" />
<rect x="418.93" y="57.64" width="20.08" height="8.75" fill="#78bd30" />
<rect x="438.82" y="57.64" width="20.08" height="8.75" fill="#e7262a" />
<rect x="339.40" y="66.19" width="20.08" height="8.75" fill="#5cb030" />
<rect x="359.28" y="66.19" width="20.08" height="8.75" fill="#5cb030" />
<rect x="379.17" y="66.19" width="20.08" height="8.75" fill="#3c9b3a" />
<rect x="399.05" y="66.19" width="20.08" height="8.75" fill="#e7262a" />
<rect x="418.93" y="66.19" width="20.08" height="8.75" fill="#f07a1e" />
<rect x="438.82" y="66.19" width="20.08" height="8.75" fill="#5cb030" />
<rect x="339.40" y="74.73" width="20.08" height="8.75" fill="#255a8c" />
<rect x="359.28" y="74.73" width="20.08" height="8.75" fill="#3c9b3a" />
<rect x="379.17" y="74.73" width="20.08" height="8.75" fill="#3c9b3a" />
<rect x="399.05" y="74.73" width="20.08" height="8.75" fill="#c6d92c" />
<rect x="418.93" y="74.73" width="20.08" height="8.75" fill="#c6d92c" />
<rect x="438.82" y="74.73" width="20.08" height="8.75" fill="#e7262a" />
<rect x="339.40" y="83.28" width="20.08" height="8.75" fill="#5cb030" />
<rect x="359.28" y="83.28" width="20.08" height="8.75" fill="#5cb030" />
<rect x="379.17" y="83.28" width="20.08" height="8.75" fill="#78bd30" />
<rect x="399.05" y="83.28" width="20.08" height="8.75" fill="#e9d923" />
<rect x="418.93" y="83.28" width="20.08" height="8.75" fill="#c6d92c" />
<rect x="438.82" y="83.28" width="20.08" height="8.75" fill="#ea4a22" />
<rect x="339.40" y="91.83" width="20.08" height="8.75" fill="#1c3393" />
<rect x="359.28" y="91.83" width="20.08" height="8.75" fill="#1c3393" />
<rect x="379.17" y="91.83" width="20.08" height="8.75" fill="#1c3393" />
<rect x="399.05" y="91.83" width="20.08" height="8.75" fill="#f5a01f" />
<rect x="418.93" y="91.83" width="20.08" height="8.75" fill="#e9d923" />
<rect x="438.82" y="91.83" width="20.08" height="8.75" fill="#e7262a" />
<rect x="339.40" y="100.37" width="20.08" height="8.75" fill="#9ccb2e" />
<rect x="359.28" y="100.37" width="20.08" height="8.75" fill="#78bd30" />
<rect x="379.17" y="100.37" width="20.08" height="8.75" fill="#5cb030" />
<rect x="399.05" y="100.37" width="20.08" height="8.75" fill="#e9d923" />
<rect x="418.93" y="100.37" width="20.08" height="8.75" fill="#f5a01f" />
<rect x="438.82" y="100.37" width="20.08" height="8.75" fill="#c6d92c" />
<rect x="339.40" y="108.92" width="20.08" height="8.75" fill="#78bd30" />
<rect x="359.28" y="108.92" width="20.08" height="8.75" fill="#78bd30" />
<rect x="379.17" y="108.92" width="20.08" height="8.75" fill="#78bd30" />
<rect x="399.05" y="108.92" width="20.08" height="8.75" fill="#e9d923" />
<rect x="418.93" y="108.92" width="20.08" height="8.75" fill="#c6d92c" />
<rect x="438.82" y="108.92" width="20.08" height="8.75" fill="#e9d923" />
<rect x="339.40" y="117.47" width="20.08" height="8.75" fill="#78bd30" />
<rect x="359.28" y="117.47" width="20.08" height="8.75" fill="#78bd30" />
<rect x="379.17" y="117.47" width="20.08" height="8.75" fill="#78bd30" />
<rect x="399.05" y="117.47" width="20.08" height="8.75" fill="#e9d923" />
<rect x="418.93" y="117.47" width="20.08" height="8.75" fill="#c6d92c" />
<rect x="438.82" y="117.47" width="20.08" height="8.75" fill="#e9d923" />
<rect x="339.40" y="126.01" width="20.08" height="8.75" fill="#3c9b3a" />
<rect x="359.28" y="126.01" width="20.08" height="8.75" fill="#5cb030" />
<rect x="379.17" y="126.01" width="20.08" height="8.75" fill="#78bd30" />
<rect x="399.05" y="126.01" width="20.08" height="8.75" fill="#f5a01f" />
<rect x="418.93" y="126.01" width="20.08" height="8.75" fill="#f5a01f" />
<rect x="438.82" y="126.01" width="20.08" height="8.75" fill="#9ccb2e" />
<rect x="339.40" y="134.56" width="20.08" height="8.75" fill="#255a8c" />
<rect x="359.28" y="134.56" width="20.08" height="8.75" fill="#255a8c" />
<rect x="379.17" y="134.56" width="20.08" height="8.75" fill="#5cb030" />
<rect x="399.05" y="134.56" width="20.08" height="8.75" fill="#e9d923" />
<rect x="418.93" y="134.56" width="20.08" height="8.75" fill="#e7262a" />
<rect x="438.82" y="134.56" width="20.08" height="8.75" fill="#c6d92c" />
<rect x="339.40" y="143.11" width="20.08" height="8.75" fill="#1c3393" />
<rect x="359.28" y="143.11" width="20.08" height="8.75" fill="#1c3393" />
<rect x="379.17" y="143.11" width="20.08" height="8.75" fill="#1c3393" />
<rect x="399.05" y="143.11" width="20.08" height="8.75" fill="#e7262a" />
<rect x="418.93" y="143.11" width="20.08" height="8.75" fill="#c6d92c" />
<rect x="438.82" y="143.11" width="20.08" height="8.75" fill="#ea4a22" />
<rect x="339.40" y="151.65" width="20.08" height="8.75" fill="#255a8c" />
<rect x="359.28" y="151.65" width="20.08" height="8.75" fill="#5cb030" />
<rect x="379.17" y="151.65" width="20.08" height="8.75" fill="#3c9b3a" />
<rect x="399.05" y="151.65" width="20.08" height="8.75" fill="#c6d92c" />
<rect x="418.93" y="151.65" width="20.08" height="8.75" fill="#e9d923" />
<rect x="438.82" y="151.65" width="20.08" height="8.75" fill="#e7262a" />
</g>
<text x="337.2" y="38.9" font-size="8.55" text-anchor="end" fill="#111" stroke="#111" stroke-width="0.28" >hsa-miR-21-5p</text>
<text x="337.2" y="47.45" font-size="8.55" text-anchor="end" fill="#111" stroke="#111" stroke-width="0.28" >hsa-miR-146a-5p</text>
<text x="337.2" y="55.99" font-size="8.55" text-anchor="end" fill="#111" stroke="#111" stroke-width="0.28" >hsa-miR-378a-3p</text>
<text x="337.2" y="64.54" font-size="8.55" text-anchor="end" fill="#111" stroke="#111" stroke-width="0.28" >hsa-miR-221-3p</text>
<text x="337.2" y="73.09" font-size="8.55" text-anchor="end" fill="#111" stroke="#111" stroke-width="0.28" >hsa-miR-27a-3p</text>
<text x="337.2" y="81.63" font-size="8.55" text-anchor="end" fill="#111" stroke="#111" stroke-width="0.28" >hsa-miR-22-3p</text>
<text x="337.2" y="90.18" font-size="8.55" text-anchor="end" fill="#111" stroke="#111" stroke-width="0.28" >hsa-miR-511-5p</text>
<text x="337.2" y="98.73" font-size="8.55" text-anchor="end" fill="#111" stroke="#111" stroke-width="0.28" >hsa-miR-378c</text>
<text x="337.2" y="107.27" font-size="8.55" text-anchor="end" fill="#111" stroke="#111" stroke-width="0.28" >hsa-miR-23a-3p</text>
<text x="337.2" y="115.82" font-size="8.55" text-anchor="end" fill="#111" stroke="#111" stroke-width="0.28" >hsa-miR-423-3p</text>
<text x="337.2" y="124.37" font-size="8.55" text-anchor="end" fill="#111" stroke="#111" stroke-width="0.28" >hsa-miR-3184-5p</text>
<text x="337.2" y="132.91" font-size="8.55" text-anchor="end" fill="#111" stroke="#111" stroke-width="0.28" >hsa-miR-186-5p</text>
<text x="337.2" y="141.46" font-size="8.55" text-anchor="end" fill="#111" stroke="#111" stroke-width="0.28" >hsa-miR-29a-3p</text>
<text x="337.2" y="150.01" font-size="8.55" text-anchor="end" fill="#111" stroke="#111" stroke-width="0.28" >hsa-miR-378d</text>
<text x="337.2" y="158.55" font-size="8.55" text-anchor="end" fill="#111" stroke="#111" stroke-width="0.28" >hsa-miR-22-5p</text>
<text x="345.0" y="30.3" font-size="9" text-anchor="start" transform="rotate(-45 345.0 30.3)" fill="#111" stroke="#111" stroke-width="0.28" >M0DEs_1</text>
<text x="365.66" y="30.3" font-size="9" text-anchor="start" transform="rotate(-45 365.66 30.3)" fill="#111" stroke="#111" stroke-width="0.28" >M0DEs_2</text>
<text x="386.32" y="30.3" font-size="9" text-anchor="start" transform="rotate(-45 386.32 30.3)" fill="#111" stroke="#111" stroke-width="0.28" >M0DEs_3</text>
<text x="406.98" y="30.3" font-size="9" text-anchor="start" transform="rotate(-45 406.98 30.3)" fill="#111" stroke="#111" stroke-width="0.28" >M2DEs_1</text>
<text x="427.64" y="30.3" font-size="9" text-anchor="start" transform="rotate(-45 427.64 30.3)" fill="#111" stroke="#111" stroke-width="0.28" >M2DEs_2</text>
<text x="448.3" y="30.3" font-size="9" text-anchor="start" transform="rotate(-45 448.3 30.3)" fill="#111" stroke="#111" stroke-width="0.28" >M2DEs_3</text>
<g shape-rendering="crispEdges">
<rect x="479.20" y="39.80" width="12.60" height="8.23" fill="#e7262a" />
<rect x="479.20" y="47.83" width="12.60" height="8.23" fill="#ea4a22" />
<rect x="479.20" y="55.85" width="12.60" height="8.23" fill="#f07a1e" />
<rect x="479.20" y="63.88" width="12.60" height="8.23" fill="#f5a01f" />
<rect x="479.20" y="71.91" width="12.60" height="8.23" fill="#e9d923" />
<rect x="479.20" y="79.93" width="12.60" height="8.23" fill="#c6d92c" />
<rect x="479.20" y="87.96" width="12.60" height="8.23" fill="#9ccb2e" />
<rect x="479.20" y="95.99" width="12.60" height="8.23" fill="#78bd30" />
<rect x="479.20" y="104.01" width="12.60" height="8.23" fill="#78bd30" />
<rect x="479.20" y="112.04" width="12.60" height="8.23" fill="#5cb030" />
<rect x="479.20" y="120.07" width="12.60" height="8.23" fill="#5cb030" />
<rect x="479.20" y="128.09" width="12.60" height="8.23" fill="#3c9b3a" />
<rect x="479.20" y="136.12" width="12.60" height="8.23" fill="#2a6e6a" />
<rect x="479.20" y="144.15" width="12.60" height="8.23" fill="#1f3a97" />
<rect x="479.20" y="152.17" width="12.60" height="8.23" fill="#1c3393" />
</g>
<text x="494" y="46.4" font-size="7" text-anchor="start" fill="#111" stroke="#111" stroke-width="0.15" >1.01</text>
<text x="494" y="54.55" font-size="7" text-anchor="start" fill="#111" stroke="#111" stroke-width="0.15" >0.81</text>
<text x="494" y="62.7" font-size="7" text-anchor="start" fill="#111" stroke="#111" stroke-width="0.15" >0.60</text>
<text x="494" y="70.85" font-size="7" text-anchor="start" fill="#111" stroke="#111" stroke-width="0.15" >0.40</text>
<text x="494" y="79.0" font-size="7" text-anchor="start" fill="#111" stroke="#111" stroke-width="0.15" >0.19</text>
<text x="494" y="87.15" font-size="7" text-anchor="start" fill="#111" stroke="#111" stroke-width="0.15" >-0.02</text>
<text x="494" y="95.3" font-size="7" text-anchor="start" fill="#111" stroke="#111" stroke-width="0.15" >-0.22</text>
<text x="494" y="103.45" font-size="7" text-anchor="start" fill="#111" stroke="#111" stroke-width="0.15" >-0.43</text>
<text x="494" y="111.6" font-size="7" text-anchor="start" fill="#111" stroke="#111" stroke-width="0.15" >-0.64</text>
<text x="494" y="119.75" font-size="7" text-anchor="start" fill="#111" stroke="#111" stroke-width="0.15" >-0.84</text>
<text x="494" y="127.9" font-size="7" text-anchor="start" fill="#111" stroke="#111" stroke-width="0.15" >-1.05</text>
<text x="494" y="136.05" font-size="7" text-anchor="start" fill="#111" stroke="#111" stroke-width="0.15" >-1.25</text>
<text x="494" y="144.2" font-size="7" text-anchor="start" fill="#111" stroke="#111" stroke-width="0.15" >-1.46</text>
<text x="494" y="152.35" font-size="7" text-anchor="start" fill="#111" stroke="#111" stroke-width="0.15" >-1.67</text>
<text x="494" y="160.5" font-size="7" text-anchor="start" fill="#111" stroke="#111" stroke-width="0.15" >-1.87</text>
<text x="2.3" y="10.5" font-size="13.2" text-anchor="start" font-weight="bold" fill="#000" stroke="#000" stroke-width="0.22" >A</text>
<text x="2.2" y="166.9" font-size="13.2" text-anchor="start" font-weight="bold" fill="#000" stroke="#000" stroke-width="0.22" >B</text>
<text x="255.9" y="167.0" font-size="13.2" text-anchor="start" font-weight="bold" fill="#000" stroke="#000" stroke-width="0.22" >C</text>
<text x="1.3" y="333.3" font-size="13.2" text-anchor="start" font-weight="bold" fill="#000" stroke="#000" stroke-width="0.22" >D</text>
<text x="172.2" y="332.6" font-size="13.2" text-anchor="start" font-weight="bold" fill="#000" stroke="#000" stroke-width="0.22" >E</text>
<text x="343.4" y="332.6" font-size="13.2" text-anchor="start" font-weight="bold" fill="#000" stroke="#000" stroke-width="0.22" >F</text>
<text x="1.4" y="506.3" font-size="13.2" text-anchor="start" font-weight="bold" fill="#000" stroke="#000" stroke-width="0.22" >G</text>
<text x="104" y="171.3" font-size="9.6" text-anchor="middle" fill="#111" stroke="#111" stroke-width="0.28" >GSC 8–11</text>
<text x="8.1" y="225" font-size="10.5" text-anchor="middle" transform="rotate(-90 8.1 225)" fill="#111" stroke="#111" stroke-width="0.28" >CD44 MFI</text>
<rect x="36.90" y="259.70" width="18.80" height="15.60" fill="#000000" />
<line x1="74.20" y1="214.30" x2="74.20" y2="213.60" stroke="#e8232a" stroke-width="1.1" />
<line x1="69.70" y1="213.60" x2="78.70" y2="213.60" stroke="#e8232a" stroke-width="1.1" />
<rect x="64.80" y="214.30" width="18.80" height="61.00" fill="#e8232a" />
<line x1="102.00" y1="209.60" x2="102.00" y2="208.30" stroke="#1d3f98" stroke-width="1.1" />
<line x1="97.50" y1="208.30" x2="106.50" y2="208.30" stroke="#1d3f98" stroke-width="1.1" />
<rect x="92.60" y="209.60" width="18.80" height="65.70" fill="#1d3f98" />
<line x1="129.60" y1="208.40" x2="129.60" y2="207.60" stroke="#7d3f98" stroke-width="1.1" />
<line x1="125.10" y1="207.60" x2="134.10" y2="207.60" stroke="#7d3f98" stroke-width="1.1" />
<rect x="120.20" y="208.40" width="18.80" height="66.90" fill="#7d3f98" />
<line x1="157.20" y1="204.60" x2="157.20" y2="204.00" stroke="#f08218" stroke-width="1.1" />
<line x1="152.70" y1="204.00" x2="161.70" y2="204.00" stroke="#f08218" stroke-width="1.1" />
<rect x="147.80" y="204.60" width="18.80" height="70.70" fill="#f08218" />
<line x1="31.60" y1="183.40" x2="31.60" y2="275.80" stroke="#111" stroke-width="1.0" />
<line x1="31.10" y1="275.30" x2="172.50" y2="275.30" stroke="#111" stroke-width="1.0" />
<line x1="28.20" y1="275.30" x2="31.60" y2="275.30" stroke="#111" stroke-width="1.0" />
<text x="27.9" y="277.4" font-size="6.1" text-anchor="end" font-weight="bold" fill="#111" stroke="#111" stroke-width="0.22" >0</text>
<line x1="28.20" y1="252.45" x2="31.60" y2="252.45" stroke="#111" stroke-width="1.0" />
<text x="27.9" y="254.55" font-size="6.1" text-anchor="end" font-weight="bold" fill="#111" stroke="#111" stroke-width="0.22" >1,000</text>
<line x1="28.20" y1="229.60" x2="31.60" y2="229.60" stroke="#111" stroke-width="1.0" />
<text x="27.9" y="231.7" font-size="6.1" text-anchor="end" font-weight="bold" fill="#111" stroke="#111" stroke-width="0.22" >2,000</text>
<line x1="28.20" y1="206.75" x2="31.60" y2="206.75" stroke="#111" stroke-width="1.0" />
<text x="27.9" y="208.85" font-size="6.1" text-anchor="end" font-weight="bold" fill="#111" stroke="#111" stroke-width="0.22" >3,000</text>
<line x1="28.20" y1="183.90" x2="31.60" y2="183.90" stroke="#111" stroke-width="1.0" />
<text x="27.9" y="186.0" font-size="6.1" text-anchor="end" font-weight="bold" fill="#111" stroke="#111" stroke-width="0.22" >4,000</text>
<line x1="46.30" y1="275.30" x2="46.30" y2="277.90" stroke="#111" stroke-width="0.9" />
<line x1="74.20" y1="275.30" x2="74.20" y2="277.90" stroke="#111" stroke-width="0.9" />
<line x1="102.00" y1="275.30" x2="102.00" y2="277.90" stroke="#111" stroke-width="0.9" />
<line x1="129.60" y1="275.30" x2="129.60" y2="277.90" stroke="#111" stroke-width="0.9" />
<line x1="157.20" y1="275.30" x2="157.20" y2="277.90" stroke="#111" stroke-width="0.9" />
<text x="48.3" y="286.0" font-size="6.75" text-anchor="end" font-weight="bold" transform="rotate(-45 48.3 286.0)" fill="#111" stroke="#111" stroke-width="0.22" >miR-NC</text>
<text x="76.5" y="286.0" font-size="6.75" text-anchor="end" font-weight="bold" transform="rotate(-45 76.5 286.0)" fill="#111" stroke="#111" stroke-width="0.22" >miR-27a-3p</text>
<text x="103.2" y="286.0" font-size="6.75" text-anchor="end" font-weight="bold" transform="rotate(-45 103.2 286.0)" fill="#111" stroke="#111" stroke-width="0.22" >miR-22-3p</text>
<text x="129.8" y="286.0" font-size="6.75" text-anchor="end" font-weight="bold" transform="rotate(-45 129.8 286.0)" fill="#111" stroke="#111" stroke-width="0.22" >miR-221-3p</text>
<text x="161.3" y="286.0" font-size="6.75" text-anchor="end" font-weight="bold" transform="rotate(-45 161.3 286.0)" fill="#111" stroke="#111" stroke-width="0.22" >miR-27a+22+221</text>
<path d="M45.70 186.50 V181.00 H157.40 V200.50" stroke="#111" stroke-width="1.0" fill="none" />
<text x="100.6" y="180.8" font-size="7.6" text-anchor="middle" font-weight="bold" fill="#111" stroke="#111" stroke-width="0.22" >****</text>
<path d="M45.70 194.60 V189.70 H129.00 V203.50" stroke="#111" stroke-width="1.0" fill="none" />
<text x="89.2" y="189.5" font-size="7.6" text-anchor="middle" font-weight="bold" fill="#111" stroke="#111" stroke-width="0.22" >****</text>
<path d="M45.70 202.80 V197.60 H101.60 V205.50" stroke="#111" stroke-width="1.0" fill="none" />
<text x="72" y="197.4" font-size="7.6" text-anchor="middle" font-weight="bold" fill="#111" stroke="#111" stroke-width="0.22" >****</text>
<path d="M45.70 257.50 V205.70 H74.40 V210.00" stroke="#111" stroke-width="1.0" fill="none" />
<text x="60.5" y="205.5" font-size="7.6" text-anchor="middle" font-weight="bold" fill="#111" stroke="#111" stroke-width="0.22" >****</text>
<text x="366.3" y="171.3" font-size="9.6" text-anchor="middle" fill="#111" stroke="#111" stroke-width="0.28" >GSC 8–11</text>
<text x="284.4" y="225" font-size="10.45" text-anchor="middle" transform="rotate(-90 284.4 225)" fill="#111" stroke="#111" stroke-width="0.28" >Tumorsphere formation</text>
<text x="297.6" y="226" font-size="10.45" text-anchor="middle" transform="rotate(-90 297.6 226)" fill="#111" stroke="#111" stroke-width="0.28" >efficiency</text>
<line x1="320.60" y1="244.50" x2="320.60" y2="240.50" stroke="#000000" stroke-width="1.1" />
<line x1="316.10" y1="240.50" x2="325.10" y2="240.50" stroke="#000000" stroke-width="1.1" />
<rect x="311.20" y="244.50" width="18.80" height="30.80" fill="#000000" />
<line x1="348.30" y1="213.80" x2="348.30" y2="209.50" stroke="#e8232a" stroke-width="1.1" />
<line x1="343.80" y1="209.50" x2="352.80" y2="209.50" stroke="#e8232a" stroke-width="1.1" />
<rect x="338.90" y="213.80" width="18.80" height="61.50" fill="#e8232a" />
<line x1="375.70" y1="216.30" x2="375.70" y2="205.30" stroke="#1d3f98" stroke-width="1.1" />
<line x1="371.20" y1="205.30" x2="380.20" y2="205.30" stroke="#1d3f98" stroke-width="1.1" />
<rect x="366.30" y="216.30" width="18.80" height="59.00" fill="#1d3f98" />
<line x1="403.40" y1="216.30" x2="403.40" y2="207.50" stroke="#7d3f98" stroke-width="1.1" />
<line x1="398.90" y1="207.50" x2="407.90" y2="207.50" stroke="#7d3f98" stroke-width="1.1" />
<rect x="394.00" y="216.30" width="18.80" height="59.00" fill="#7d3f98" />
<line x1="431.10" y1="211.30" x2="431.10" y2="199.30" stroke="#f08218" stroke-width="1.1" />
<line x1="426.60" y1="199.30" x2="435.60" y2="199.30" stroke="#f08218" stroke-width="1.1" />
<rect x="421.70" y="211.30" width="18.80" height="64.00" fill="#f08218" />
<line x1="306.60" y1="183.00" x2="306.60" y2="275.80" stroke="#111" stroke-width="1.0" />
<line x1="306.10" y1="275.30" x2="446.50" y2="275.30" stroke="#111" stroke-width="1.0" />
<line x1="303.20" y1="275.30" x2="306.60" y2="275.30" stroke="#111" stroke-width="1.0" />
<text x="302.2" y="277.4" font-size="6.3" text-anchor="end" font-weight="bold" fill="#111" stroke="#111" stroke-width="0.22" >0</text>
<line x1="303.20" y1="244.55" x2="306.60" y2="244.55" stroke="#111" stroke-width="1.0" />
<text x="302.2" y="246.65" font-size="6.3" text-anchor="end" font-weight="bold" fill="#111" stroke="#111" stroke-width="0.22" >1</text>
<line x1="303.20" y1="213.80" x2="306.60" y2="213.80" stroke="#111" stroke-width="1.0" />
<text x="302.2" y="215.9" font-size="6.3" text-anchor="end" font-weight="bold" fill="#111" stroke="#111" stroke-width="0.22" >2</text>
<line x1="303.20" y1="183.05" x2="306.60" y2="183.05" stroke="#111" stroke-width="1.0" />
<text x="302.2" y="185.15" font-size="6.3" text-anchor="end" font-weight="bold" fill="#111" stroke="#111" stroke-width="0.22" >3</text>
<line x1="320.60" y1="275.30" x2="320.60" y2="277.90" stroke="#111" stroke-width="0.9" />
<line x1="348.30" y1="275.30" x2="348.30" y2="277.90" stroke="#111" stroke-width="0.9" />
<line x1="375.70" y1="275.30" x2="375.70" y2="277.90" stroke="#111" stroke-width="0.9" />
<line x1="403.40" y1="275.30" x2="403.40" y2="277.90" stroke="#111" stroke-width="0.9" />
<line x1="431.10" y1="275.30" x2="431.10" y2="277.90" stroke="#111" stroke-width="0.9" />
<text x="322.6" y="286.0" font-size="6.75" text-anchor="end" font-weight="bold" transform="rotate(-45 322.6 286.0)" fill="#111" stroke="#111" stroke-width="0.22" >miR-NC</text>
<text x="350.6" y="286.0" font-size="6.75" text-anchor="end" font-weight="bold" transform="rotate(-45 350.6 286.0)" fill="#111" stroke="#111" stroke-width="0.22" >miR-27a-3p</text>
<text x="376.9" y="286.0" font-size="6.75" text-anchor="end" font-weight="bold" transform="rotate(-45 376.9 286.0)" fill="#111" stroke="#111" stroke-width="0.22" >miR-22-3p</text>
<text x="403.6" y="286.0" font-size="6.75" text-anchor="end" font-weight="bold" transform="rotate(-45 403.6 286.0)" fill="#111" stroke="#111" stroke-width="0.22" >miR-221-3p</text>
<text x="435.2" y="286.0" font-size="6.75" text-anchor="end" font-weight="bold" transform="rotate(-45 435.2 286.0)" fill="#111" stroke="#111" stroke-width="0.22" >miR-27a+22+221</text>
<path d="M320.40 189.40 V185.00 H431.20 V197.50" stroke="#111" stroke-width="1.0" fill="none" />
<text x="374.5" y="184.8" font-size="7.6" text-anchor="middle" font-weight="bold" fill="#111" stroke="#111" stroke-width="0.22" >*</text>
<path d="M320.40 196.20 V192.00 H403.70 V206.00" stroke="#111" stroke-width="1.0" fill="none" />
<text x="361" y="191.8" font-size="7.6" text-anchor="middle" font-weight="bold" fill="#111" stroke="#111" stroke-width="0.22" >**</text>
<path d="M320.40 202.40 V198.80 H375.60 V203.80" stroke="#111" stroke-width="1.0" fill="none" />
<text x="347" y="198.6" font-size="7.6" text-anchor="middle" font-weight="bold" fill="#111" stroke="#111" stroke-width="0.22" >*</text>
<path d="M320.40 239.60 V205.00 H348.20 V208.50" stroke="#111" stroke-width="1.0" fill="none" />
<text x="333.5" y="204.8" font-size="7.6" text-anchor="middle" font-weight="bold" fill="#111" stroke="#111" stroke-width="0.22" >***</text>
<text x="271" y="337.3" font-size="9.6" text-anchor="middle" fill="#111" stroke="#111" stroke-width="0.28" >GSC 8–11</text>
<text x="180.3" y="402" font-size="10.1" text-anchor="middle" transform="rotate(-90 180.3 402)" fill="#111" stroke="#111" stroke-width="0.28" >EdU-positive cells (%)</text>
<line x1="216.70" y1="449.20" x2="216.70" y2="446.50" stroke="#000000" stroke-width="1.1" />
<line x1="212.20" y1="446.50" x2="221.20" y2="446.50" stroke="#000000" stroke-width="1.1" />
<rect x="207.35" y="449.20" width="18.70" height="5.00" fill="#000000" />
<line x1="244.40" y1="414.60" x2="244.40" y2="406.70" stroke="#e8232a" stroke-width="1.1" />
<line x1="239.90" y1="406.70" x2="248.90" y2="406.70" stroke="#e8232a" stroke-width="1.1" />
<rect x="235.05" y="414.60" width="18.70" height="39.60" fill="#e8232a" />
<line x1="272.00" y1="402.50" x2="272.00" y2="394.90" stroke="#1d3f98" stroke-width="1.1" />
<line x1="267.50" y1="394.90" x2="276.50" y2="394.90" stroke="#1d3f98" stroke-width="1.1" />
<rect x="262.65" y="402.50" width="18.70" height="51.70" fill="#1d3f98" />
<line x1="299.50" y1="400.00" x2="299.50" y2="396.30" stroke="#7d3f98" stroke-width="1.1" />
<line x1="295.00" y1="396.30" x2="304.00" y2="396.30" stroke="#7d3f98" stroke-width="1.1" />
<rect x="290.15" y="400.00" width="18.70" height="54.20" fill="#7d3f98" />
<line x1="327.00" y1="391.40" x2="327.00" y2="383.50" stroke="#f08218" stroke-width="1.1" />
<line x1="322.50" y1="383.50" x2="331.50" y2="383.50" stroke="#f08218" stroke-width="1.1" />
<rect x="317.65" y="391.40" width="18.70" height="62.80" fill="#f08218" />
<line x1="203.20" y1="363.30" x2="203.20" y2="454.70" stroke="#111" stroke-width="1.0" />
<line x1="202.70" y1="454.20" x2="340.60" y2="454.20" stroke="#111" stroke-width="1.0" />
<line x1="199.80" y1="454.20" x2="203.20" y2="454.20" stroke="#111" stroke-width="1.0" />
<text x="199.3" y="456.3" font-size="6.3" text-anchor="end" font-weight="bold" fill="#111" stroke="#111" stroke-width="0.22" >0</text>
<line x1="199.80" y1="436.02" x2="203.20" y2="436.02" stroke="#111" stroke-width="1.0" />
<text x="199.3" y="438.12" font-size="6.3" text-anchor="end" font-weight="bold" fill="#111" stroke="#111" stroke-width="0.22" >20</text>
<line x1="199.80" y1="417.84" x2="203.20" y2="417.84" stroke="#111" stroke-width="1.0" />
<text x="199.3" y="419.94" font-size="6.3" text-anchor="end" font-weight="bold" fill="#111" stroke="#111" stroke-width="0.22" >40</text>
<line x1="199.80" y1="399.66" x2="203.20" y2="399.66" stroke="#111" stroke-width="1.0" />
<text x="199.3" y="401.76" font-size="6.3" text-anchor="end" font-weight="bold" fill="#111" stroke="#111" stroke-width="0.22" >60</text>
<line x1="199.80" y1="381.48" x2="203.20" y2="381.48" stroke="#111" stroke-width="1.0" />
<text x="199.3" y="383.58" font-size="6.3" text-anchor="end" font-weight="bold" fill="#111" stroke="#111" stroke-width="0.22" >80</text>
<line x1="199.80" y1="363.30" x2="203.20" y2="363.30" stroke="#111" stroke-width="1.0" />
<text x="199.3" y="365.4" font-size="6.3" text-anchor="end" font-weight="bold" fill="#111" stroke="#111" stroke-width="0.22" >100</text>
<line x1="216.70" y1="454.20" x2="216.70" y2="456.80" stroke="#111" stroke-width="0.9" />
<line x1="244.40" y1="454.20" x2="244.40" y2="456.80" stroke="#111" stroke-width="0.9" />
<line x1="272.00" y1="454.20" x2="272.00" y2="456.80" stroke="#111" stroke-width="0.9" />
<line x1="299.50" y1="454.20" x2="299.50" y2="456.80" stroke="#111" stroke-width="0.9" />
<line x1="327.00" y1="454.20" x2="327.00" y2="456.80" stroke="#111" stroke-width="0.9" />
<text x="219.3" y="462.1" font-size="6.75" text-anchor="end" font-weight="bold" transform="rotate(-45 219.3 462.1)" fill="#111" stroke="#111" stroke-width="0.22" >miR-NC</text>
<text x="246.8" y="462.1" font-size="6.75" text-anchor="end" font-weight="bold" transform="rotate(-45 246.8 462.1)" fill="#111" stroke="#111" stroke-width="0.22" >miR-27a-3p</text>
<text x="273.9" y="462.1" font-size="6.75" text-anchor="end" font-weight="bold" transform="rotate(-45 273.9 462.1)" fill="#111" stroke="#111" stroke-width="0.22" >miR-22-3p</text>
<text x="300.8" y="462.1" font-size="6.75" text-anchor="end" font-weight="bold" transform="rotate(-45 300.8 462.1)" fill="#111" stroke="#111" stroke-width="0.22" >miR-221-3p</text>
<text x="333.0" y="462.1" font-size="6.75" text-anchor="end" font-weight="bold" transform="rotate(-45 333.0 462.1)" fill="#111" stroke="#111" stroke-width="0.22" >miR-27a+22+221</text>
<path d="M216.70 351.00 V345.00 H327.50 V381.60" stroke="#111" stroke-width="1.0" fill="none" />
<text x="271" y="344.8" font-size="7.6" text-anchor="middle" font-weight="bold" fill="#111" stroke="#111" stroke-width="0.22" >***</text>
<path d="M216.70 360.30 V354.00 H299.80 V394.40" stroke="#111" stroke-width="1.0" fill="none" />
<text x="258" y="353.8" font-size="7.6" text-anchor="middle" font-weight="bold" fill="#111" stroke="#111" stroke-width="0.22" >****</text>
<path d="M216.70 369.60 V363.30 H272.00 V392.70" stroke="#111" stroke-width="1.0" fill="none" />
<text x="245" y="363.1" font-size="7.6" text-anchor="middle" font-weight="bold" fill="#111" stroke="#111" stroke-width="0.22" >***</text>
<path d="M216.70 445.80 V372.60 H244.40 V404.80" stroke="#111" stroke-width="1.0" fill="none" />
<text x="230" y="372.4" font-size="7.6" text-anchor="middle" font-weight="bold" fill="#111" stroke="#111" stroke-width="0.22" >**</text>
<text x="441" y="337.3" font-size="9.6" text-anchor="middle" fill="#111" stroke="#111" stroke-width="0.28" >GSC 8–11</text>
<text x="355.8" y="398.7" font-size="10.2" text-anchor="middle" transform="rotate(-90 355.8 398.7)" fill="#111" stroke="#111" stroke-width="0.28" >CD44 MFI</text>
<line x1="390.30" y1="429.80" x2="390.30" y2="428.20" stroke="#000000" stroke-width="1.1" />
<line x1="386.80" y1="428.20" x2="393.80" y2="428.20" stroke="#000000" stroke-width="1.1" />
<rect x="384.25" y="429.80" width="12.10" height="24.20" fill="#000000" />
<line x1="407.60" y1="429.90" x2="407.60" y2="429.20" stroke="#e8232a" stroke-width="1.1" />
<line x1="404.10" y1="429.20" x2="411.10" y2="429.20" stroke="#e8232a" stroke-width="1.1" />
<rect x="401.55" y="429.90" width="12.10" height="24.10" fill="#e8232a" />
<line x1="424.90" y1="375.30" x2="424.90" y2="373.70" stroke="#1d3f98" stroke-width="1.1" />
<line x1="421.40" y1="373.70" x2="428.40" y2="373.70" stroke="#1d3f98" stroke-width="1.1" />
<rect x="418.85" y="375.30" width="12.10" height="78.70" fill="#1d3f98" />
<line x1="442.10" y1="377.00" x2="442.10" y2="375.60" stroke="#7d3f98" stroke-width="1.1" />
<line x1="438.60" y1="375.60" x2="445.60" y2="375.60" stroke="#7d3f98" stroke-width="1.1" />
<rect x="436.05" y="377.00" width="12.10" height="77.00" fill="#7d3f98" />
<line x1="459.40" y1="390.50" x2="459.40" y2="390.00" stroke="#f08218" stroke-width="1.1" />
<line x1="455.90" y1="390.00" x2="462.90" y2="390.00" stroke="#f08218" stroke-width="1.1" />
<rect x="453.35" y="390.50" width="12.10" height="63.50" fill="#f08218" />
<line x1="476.50" y1="392.60" x2="476.50" y2="392.00" stroke="#fddb1b" stroke-width="1.1" />
<line x1="473.00" y1="392.00" x2="480.00" y2="392.00" stroke="#fddb1b" stroke-width="1.1" />
<rect x="470.45" y="392.60" width="12.10" height="61.40" fill="#fddb1b" />
<line x1="493.50" y1="394.30" x2="493.50" y2="393.40" stroke="#96642a" stroke-width="1.1" />
<line x1="490.00" y1="393.40" x2="497.00" y2="393.40" stroke="#96642a" stroke-width="1.1" />
<rect x="487.45" y="394.30" width="12.10" height="59.70" fill="#96642a" />
<line x1="511.00" y1="398.70" x2="511.00" y2="398.40" stroke="#20335f" stroke-width="1.1" />
<line x1="507.50" y1="398.40" x2="514.50" y2="398.40" stroke="#20335f" stroke-width="1.1" />
<rect x="504.95" y="398.70" width="12.10" height="55.30" fill="#20335f" />
<line x1="381.60" y1="362.30" x2="381.60" y2="454.50" stroke="#111" stroke-width="1.0" />
<line x1="381.10" y1="454.00" x2="520.00" y2="454.00" stroke="#111" stroke-width="1.0" />
<line x1="378.20" y1="454.00" x2="381.60" y2="454.00" stroke="#111" stroke-width="1.0" />
<text x="377.6" y="456.2" font-size="6.3" text-anchor="end" font-weight="bold" fill="#111" stroke="#111" stroke-width="0.22" >0</text>
<line x1="378.20" y1="423.43" x2="381.60" y2="423.43" stroke="#111" stroke-width="1.0" />
<text x="377.6" y="425.63" font-size="6.3" text-anchor="end" font-weight="bold" fill="#111" stroke="#111" stroke-width="0.22" >1,000</text>
<line x1="378.20" y1="392.86" x2="381.60" y2="392.86" stroke="#111" stroke-width="1.0" />
<text x="377.6" y="395.06" font-size="6.3" text-anchor="end" font-weight="bold" fill="#111" stroke="#111" stroke-width="0.22" >2,000</text>
<line x1="378.20" y1="362.29" x2="381.60" y2="362.29" stroke="#111" stroke-width="1.0" />
<text x="377.6" y="364.49" font-size="6.3" text-anchor="end" font-weight="bold" fill="#111" stroke="#111" stroke-width="0.22" >3,000</text>
<line x1="390.30" y1="454.00" x2="390.30" y2="456.60" stroke="#111" stroke-width="0.9" />
<line x1="407.60" y1="454.00" x2="407.60" y2="456.60" stroke="#111" stroke-width="0.9" />
<line x1="424.90" y1="454.00" x2="424.90" y2="456.60" stroke="#111" stroke-width="0.9" />
<line x1="442.10" y1="454.00" x2="442.10" y2="456.60" stroke="#111" stroke-width="0.9" />
<line x1="459.40" y1="454.00" x2="459.40" y2="456.60" stroke="#111" stroke-width="0.9" />
<line x1="476.50" y1="454.00" x2="476.50" y2="456.60" stroke="#111" stroke-width="0.9" />
<line x1="493.50" y1="454.00" x2="493.50" y2="456.60" stroke="#111" stroke-width="0.9" />
<line x1="511.00" y1="454.00" x2="511.00" y2="456.60" stroke="#111" stroke-width="0.9" />
<text x="394.1" y="463.4" font-size="6.9" text-anchor="end" font-weight="bold" transform="rotate(-45 394.1 463.4)" fill="#111" stroke="#111" stroke-width="0.22" >Ctrl</text>
<text x="414.6" y="463.4" font-size="6.9" text-anchor="end" font-weight="bold" transform="rotate(-45 414.6 463.4)" fill="#111" stroke="#111" stroke-width="0.22" >M0DEs</text>
<text x="432.1" y="463.4" font-size="6.9" text-anchor="end" font-weight="bold" transform="rotate(-45 432.1 463.4)" fill="#111" stroke="#111" stroke-width="0.22" >M2DEs</text>
<text x="445.5" y="463.4" font-size="6.9" text-anchor="end" font-weight="bold" transform="rotate(-45 445.5 463.4)" fill="#111" stroke="#111" stroke-width="0.22" >I</text>
<text x="462.8" y="463.4" font-size="6.9" text-anchor="end" font-weight="bold" transform="rotate(-45 462.8 463.4)" fill="#111" stroke="#111" stroke-width="0.22" >II</text>
<text x="479.5" y="463.4" font-size="6.9" text-anchor="end" font-weight="bold" transform="rotate(-45 479.5 463.4)" fill="#111" stroke="#111" stroke-width="0.22" >III</text>
<text x="497.3" y="463.4" font-size="6.9" text-anchor="end" font-weight="bold" transform="rotate(-45 497.3 463.4)" fill="#111" stroke="#111" stroke-width="0.22" >IV</text>
<text x="514.4" y="463.4" font-size="6.9" text-anchor="end" font-weight="bold" transform="rotate(-45 514.4 463.4)" fill="#111" stroke="#111" stroke-width="0.22" >V</text>
<path d="M389.8 427.8 V361.0 H425.2 V365.6" stroke="#111" stroke-width="1.0" fill="none" />
<path d="M406.6 428.6 V367.2 H425.2 V371.8" stroke="#111" stroke-width="1.0" fill="none" />
<path d="M389.8 423.2 H406.6" stroke="#111" stroke-width="1.0" fill="none" />
<text x="406.6" y="360.8" font-size="7.6" text-anchor="middle" font-weight="bold" fill="#111" stroke="#111" stroke-width="0.22" >****</text>
<text x="417.0" y="367.2" font-size="7.6" text-anchor="middle" font-weight="bold" fill="#111" stroke="#111" stroke-width="0.22" >****</text>
<text x="398.9" y="421.2" font-size="9" text-anchor="middle" fill="#111" stroke="#111" stroke-width="0.28" >ns</text>
<path d="M442.20 354.00 V350.50 H510.80 V396.20" stroke="#111" stroke-width="1.0" fill="none" />
<text x="478.5" y="350.3" font-size="7.6" text-anchor="middle" font-weight="bold" fill="#111" stroke="#111" stroke-width="0.22" >****</text>
<path d="M442.20 360.60 V356.90 H494.00 V392.00" stroke="#111" stroke-width="1.0" fill="none" />
<text x="470" y="356.7" font-size="7.6" text-anchor="middle" font-weight="bold" fill="#111" stroke="#111" stroke-width="0.22" >***</text>
<path d="M442.20 367.00 V363.40 H476.70 V390.50" stroke="#111" stroke-width="1.0" fill="none" />
<text x="459.5" y="363.2" font-size="7.6" text-anchor="middle" font-weight="bold" fill="#111" stroke="#111" stroke-width="0.22" >***</text>
<path d="M442.20 374.50 V369.80 H459.40 V388.50" stroke="#111" stroke-width="1.0" fill="none" />
<text x="450.6" y="369.6" font-size="7.6" text-anchor="middle" font-weight="bold" fill="#111" stroke="#111" stroke-width="0.22" >***</text>
<clipPath id="dclip"><rect x="33.7" y="344.0" width="114.60000000000001" height="101.69999999999999"/></clipPath>
<g clip-path="url(#dclip)">
<line x1="26.42" y1="340.87" x2="170.46" y2="423.16" stroke="#7fc6d6" stroke-width="1.25" />
<line x1="29.25" y1="337.34" x2="136.50" y2="465.52" stroke="#2b4c8c" stroke-width="1.25" />
<line x1="30.48" y1="337.34" x2="121.74" y2="465.52" stroke="#1a1a1a" stroke-width="1.25" />
<line x1="31.10" y1="337.34" x2="114.30" y2="465.52" stroke="#d8323a" stroke-width="1.25" />
<line x1="31.71" y1="337.34" x2="106.98" y2="465.52" stroke="#5cb848" stroke-width="1.25" />
</g>
<circle cx="40.60" cy="347.50" r="1.6" fill="#3a7a9a"/>
<circle cx="40.20" cy="351.00" r="1.6" fill="#444"/>
<circle cx="51.70" cy="351.80" r="1.6" fill="#9ad0dc"/>
<circle cx="64.60" cy="364.00" r="1.6" fill="#9ad0dc"/>
<circle cx="91.40" cy="381.30" r="1.6" fill="#9ad0dc"/>
<circle cx="144.60" cy="418.80" r="1.6" fill="#9ad0dc"/>
<circle cx="51.70" cy="363.50" r="1.6" fill="#3a3a5a"/>
<circle cx="51.70" cy="370.00" r="1.6" fill="#8a6a4a"/>
<circle cx="64.60" cy="381.00" r="1.6" fill="#3a5a9a"/>
<circle cx="64.60" cy="394.80" r="1.6" fill="#6a5a3a"/>
<circle cx="64.60" cy="418.80" r="1.6" fill="#7cc46c"/>
<circle cx="91.40" cy="418.80" r="1.6" fill="#7a7a4a"/>
<path d="M142.8 441.0 H146.4 L144.6 444.4 Z" stroke="none" stroke-width="0.8" fill="#2a5a6a" />
<rect x="33.70" y="344.00" width="114.60" height="101.70" fill="none" stroke="#222" stroke-width="0.9"/>
<line x1="37.50" y1="445.70" x2="37.50" y2="448.20" stroke="#111" stroke-width="0.8" />
<text x="37.7" y="455.3" font-size="7" text-anchor="middle" font-weight="bold" fill="#111" stroke="#111" stroke-width="0.22" >0</text>
<line x1="64.30" y1="445.70" x2="64.30" y2="448.20" stroke="#111" stroke-width="0.8" />
<text x="64.5" y="455.3" font-size="7" text-anchor="middle" font-weight="bold" fill="#111" stroke="#111" stroke-width="0.22" >10</text>
<line x1="91.10" y1="445.70" x2="91.10" y2="448.20" stroke="#111" stroke-width="0.8" />
<text x="91.3" y="455.3" font-size="7" text-anchor="middle" font-weight="bold" fill="#111" stroke="#111" stroke-width="0.22" >20</text>
<line x1="117.90" y1="445.70" x2="117.90" y2="448.20" stroke="#111" stroke-width="0.8" />
<text x="118.1" y="455.3" font-size="7" text-anchor="middle" font-weight="bold" fill="#111" stroke="#111" stroke-width="0.22" >30</text>
<line x1="144.70" y1="445.70" x2="144.70" y2="448.20" stroke="#111" stroke-width="0.8" />
<text x="144.9" y="455.3" font-size="7" text-anchor="middle" font-weight="bold" fill="#111" stroke="#111" stroke-width="0.22" >40</text>
<line x1="31.70" y1="347.40" x2="33.70" y2="347.40" stroke="#111" stroke-width="0.8" />
<text x="30.6" y="348.6" font-size="5.9" text-anchor="middle" font-weight="bold" transform="rotate(-90 30.6 348.6)" fill="#111" stroke="#111" stroke-width="0.22" >0.0</text>
<line x1="31.70" y1="364.45" x2="33.70" y2="364.45" stroke="#111" stroke-width="0.8" />
<text x="30.6" y="365.65" font-size="5.9" text-anchor="middle" font-weight="bold" transform="rotate(-90 30.6 365.65)" fill="#111" stroke="#111" stroke-width="0.22" >–0.5</text>
<line x1="31.70" y1="381.50" x2="33.70" y2="381.50" stroke="#111" stroke-width="0.8" />
<text x="30.6" y="382.7" font-size="5.9" text-anchor="middle" font-weight="bold" transform="rotate(-90 30.6 382.7)" fill="#111" stroke="#111" stroke-width="0.22" >–1.0</text>
<line x1="31.70" y1="398.55" x2="33.70" y2="398.55" stroke="#111" stroke-width="0.8" />
<text x="30.6" y="399.75" font-size="5.9" text-anchor="middle" font-weight="bold" transform="rotate(-90 30.6 399.75)" fill="#111" stroke="#111" stroke-width="0.22" >–1.5</text>
<line x1="31.70" y1="415.60" x2="33.70" y2="415.60" stroke="#111" stroke-width="0.8" />
<text x="30.6" y="416.8" font-size="5.9" text-anchor="middle" font-weight="bold" transform="rotate(-90 30.6 416.8)" fill="#111" stroke="#111" stroke-width="0.22" >–2.0</text>
<line x1="31.70" y1="432.65" x2="33.70" y2="432.65" stroke="#111" stroke-width="0.8" />
<text x="30.6" y="433.85" font-size="5.9" text-anchor="middle" font-weight="bold" transform="rotate(-90 30.6 433.85)" fill="#111" stroke="#111" stroke-width="0.22" >–2.5</text>
<text x="16.9" y="397.7" font-size="9.95" text-anchor="middle" transform="rotate(-90 16.9 397.7)" fill="#111" stroke="#111" stroke-width="0.28" >Log fraction nonresponding</text>
<text x="89" y="468.5" font-size="10.6" text-anchor="middle" fill="#111" stroke="#111" stroke-width="0.28" >Dose (number of cells)</text>
<text x="80.4" y="349.60" font-size="6.3" fill="#8fcfdc">Group miR−NC</text>
<text x="80.4" y="355.30" font-size="6.3" fill="#2b4c8c">Group miR−27a−3p</text>
<text x="80.4" y="361.00" font-size="6.3" fill="#1a1a1a">Group miR−22−3p</text>
<text x="80.4" y="366.70" font-size="6.3" fill="#d8323a">Group miR−221−3p</text>
<text x="80.4" y="372.40" font-size="6.3" fill="#5cb848">Group miR−27a+22+221</text>
<text x="130" y="509.3" font-size="10.0" text-anchor="middle" fill="#111" stroke="#111" stroke-width="0.28" >GSC 8–11</text>
<text x="391.5" y="509.3" font-size="10.0" text-anchor="middle" fill="#111" stroke="#111" stroke-width="0.28" >GSC 8–11</text>
<text x="30.3" y="519.6" font-size="9.0" text-anchor="middle" fill="#111" stroke="#111" stroke-width="0.12" >Ctrl</text>
<line x1="66.90" y1="517.00" x2="71.10" y2="517.00" stroke="#111" stroke-width="1.0" />
<line x1="69.00" y1="514.90" x2="69.00" y2="519.10" stroke="#111" stroke-width="1.0" />
<line x1="87.63" y1="517.00" x2="90.23" y2="517.00" stroke="#222" stroke-width="0.85" />
<line x1="107.56" y1="517.00" x2="110.16" y2="517.00" stroke="#222" stroke-width="0.85" />
<line x1="127.49" y1="517.00" x2="130.09" y2="517.00" stroke="#222" stroke-width="0.85" />
<line x1="147.42" y1="517.00" x2="150.02" y2="517.00" stroke="#222" stroke-width="0.85" />
<line x1="167.35" y1="517.00" x2="169.95" y2="517.00" stroke="#222" stroke-width="0.85" />
<line x1="187.28" y1="517.00" x2="189.88" y2="517.00" stroke="#222" stroke-width="0.85" />
<line x1="207.21" y1="517.00" x2="209.81" y2="517.00" stroke="#222" stroke-width="0.85" />
<text x="30.3" y="530.2" font-size="9.0" text-anchor="middle" fill="#111" stroke="#111" stroke-width="0.12" >M0DEs</text>
<line x1="67.70" y1="527.60" x2="70.30" y2="527.60" stroke="#222" stroke-width="0.85" />
<line x1="86.83" y1="527.60" x2="91.03" y2="527.60" stroke="#111" stroke-width="1.0" />
<line x1="88.93" y1="525.50" x2="88.93" y2="529.70" stroke="#111" stroke-width="1.0" />
<line x1="107.56" y1="527.60" x2="110.16" y2="527.60" stroke="#222" stroke-width="0.85" />
<line x1="127.49" y1="527.60" x2="130.09" y2="527.60" stroke="#222" stroke-width="0.85" />
<line x1="147.42" y1="527.60" x2="150.02" y2="527.60" stroke="#222" stroke-width="0.85" />
<line x1="167.35" y1="527.60" x2="169.95" y2="527.60" stroke="#222" stroke-width="0.85" />
<line x1="187.28" y1="527.60" x2="189.88" y2="527.60" stroke="#222" stroke-width="0.85" />
<line x1="207.21" y1="527.60" x2="209.81" y2="527.60" stroke="#222" stroke-width="0.85" />
<text x="30.3" y="540.8" font-size="9.0" text-anchor="middle" fill="#111" stroke="#111" stroke-width="0.12" >M2DEs</text>
<line x1="67.70" y1="538.20" x2="70.30" y2="538.20" stroke="#222" stroke-width="0.85" />
<line x1="87.63" y1="538.20" x2="90.23" y2="538.20" stroke="#222" stroke-width="0.85" />
<line x1="106.76" y1="538.20" x2="110.96" y2="538.20" stroke="#111" stroke-width="1.0" />
<line x1="108.86" y1="536.10" x2="108.86" y2="540.30" stroke="#111" stroke-width="1.0" />
<line x1="127.49" y1="538.20" x2="130.09" y2="538.20" stroke="#222" stroke-width="0.85" />
<line x1="147.42" y1="538.20" x2="150.02" y2="538.20" stroke="#222" stroke-width="0.85" />
<line x1="167.35" y1="538.20" x2="169.95" y2="538.20" stroke="#222" stroke-width="0.85" />
<line x1="187.28" y1="538.20" x2="189.88" y2="538.20" stroke="#222" stroke-width="0.85" />
<line x1="207.21" y1="538.20" x2="209.81" y2="538.20" stroke="#222" stroke-width="0.85" />
<text x="30.3" y="551.4" font-size="9.0" text-anchor="middle" fill="#111" stroke="#111" stroke-width="0.12" >miR-NC</text>
<line x1="67.70" y1="548.80" x2="70.30" y2="548.80" stroke="#222" stroke-width="0.85" />
<line x1="87.63" y1="548.80" x2="90.23" y2="548.80" stroke="#222" stroke-width="0.85" />
<line x1="107.56" y1="548.80" x2="110.16" y2="548.80" stroke="#222" stroke-width="0.85" />
<line x1="126.69" y1="548.80" x2="130.89" y2="548.80" stroke="#111" stroke-width="1.0" />
<line x1="128.79" y1="546.70" x2="128.79" y2="550.90" stroke="#111" stroke-width="1.0" />
<line x1="147.42" y1="548.80" x2="150.02" y2="548.80" stroke="#222" stroke-width="0.85" />
<line x1="167.35" y1="548.80" x2="169.95" y2="548.80" stroke="#222" stroke-width="0.85" />
<line x1="187.28" y1="548.80" x2="189.88" y2="548.80" stroke="#222" stroke-width="0.85" />
<line x1="207.21" y1="548.80" x2="209.81" y2="548.80" stroke="#222" stroke-width="0.85" />
<text x="30.3" y="562.0" font-size="9.0" text-anchor="middle" fill="#111" stroke="#111" stroke-width="0.12" >miR-27a-3p</text>
<line x1="67.70" y1="559.40" x2="70.30" y2="559.40" stroke="#222" stroke-width="0.85" />
<line x1="87.63" y1="559.40" x2="90.23" y2="559.40" stroke="#222" stroke-width="0.85" />
<line x1="107.56" y1="559.40" x2="110.16" y2="559.40" stroke="#222" stroke-width="0.85" />
<line x1="127.49" y1="559.40" x2="130.09" y2="559.40" stroke="#222" stroke-width="0.85" />
<line x1="146.62" y1="559.40" x2="150.82" y2="559.40" stroke="#111" stroke-width="1.0" />
<line x1="148.72" y1="557.30" x2="148.72" y2="561.50" stroke="#111" stroke-width="1.0" />
<line x1="167.35" y1="559.40" x2="169.95" y2="559.40" stroke="#222" stroke-width="0.85" />
<line x1="187.28" y1="559.40" x2="189.88" y2="559.40" stroke="#222" stroke-width="0.85" />
<line x1="206.41" y1="559.40" x2="210.61" y2="559.40" stroke="#111" stroke-width="1.0" />
<line x1="208.51" y1="557.30" x2="208.51" y2="561.50" stroke="#111" stroke-width="1.0" />
<text x="30.3" y="572.6" font-size="9.0" text-anchor="middle" fill="#111" stroke="#111" stroke-width="0.12" >miR-22-3p</text>
<line x1="67.70" y1="570.00" x2="70.30" y2="570.00" stroke="#222" stroke-width="0.85" />
<line x1="87.63" y1="570.00" x2="90.23" y2="570.00" stroke="#222" stroke-width="0.85" />
<line x1="107.56" y1="570.00" x2="110.16" y2="570.00" stroke="#222" stroke-width="0.85" />
<line x1="127.49" y1="570.00" x2="130.09" y2="570.00" stroke="#222" stroke-width="0.85" />
<line x1="147.42" y1="570.00" x2="150.02" y2="570.00" stroke="#222" stroke-width="0.85" />
<line x1="166.55" y1="570.00" x2="170.75" y2="570.00" stroke="#111" stroke-width="1.0" />
<line x1="168.65" y1="567.90" x2="168.65" y2="572.10" stroke="#111" stroke-width="1.0" />
<line x1="187.28" y1="570.00" x2="189.88" y2="570.00" stroke="#222" stroke-width="0.85" />
<line x1="206.41" y1="570.00" x2="210.61" y2="570.00" stroke="#111" stroke-width="1.0" />
<line x1="208.51" y1="567.90" x2="208.51" y2="572.10" stroke="#111" stroke-width="1.0" />
<text x="30.3" y="583.2" font-size="9.0" text-anchor="middle" fill="#111" stroke="#111" stroke-width="0.12" >miR-221-3p</text>
<line x1="67.70" y1="580.60" x2="70.30" y2="580.60" stroke="#222" stroke-width="0.85" />
<line x1="87.63" y1="580.60" x2="90.23" y2="580.60" stroke="#222" stroke-width="0.85" />
<line x1="107.56" y1="580.60" x2="110.16" y2="580.60" stroke="#222" stroke-width="0.85" />
<line x1="127.49" y1="580.60" x2="130.09" y2="580.60" stroke="#222" stroke-width="0.85" />
<line x1="147.42" y1="580.60" x2="150.02" y2="580.60" stroke="#222" stroke-width="0.85" />
<line x1="167.35" y1="580.60" x2="169.95" y2="580.60" stroke="#222" stroke-width="0.85" />
<line x1="186.48" y1="580.60" x2="190.68" y2="580.60" stroke="#111" stroke-width="1.0" />
<line x1="188.58" y1="578.50" x2="188.58" y2="582.70" stroke="#111" stroke-width="1.0" />
<line x1="206.41" y1="580.60" x2="210.61" y2="580.60" stroke="#111" stroke-width="1.0" />
<line x1="208.51" y1="578.50" x2="208.51" y2="582.70" stroke="#111" stroke-width="1.0" />
<text x="287" y="519.6" font-size="9.0" text-anchor="middle" fill="#111" stroke="#111" stroke-width="0.12" >Ctrl</text>
<line x1="319.40" y1="517.00" x2="323.60" y2="517.00" stroke="#111" stroke-width="1.0" />
<line x1="321.50" y1="514.90" x2="321.50" y2="519.10" stroke="#111" stroke-width="1.0" />
<line x1="340.13" y1="517.00" x2="342.73" y2="517.00" stroke="#222" stroke-width="0.85" />
<line x1="360.06" y1="517.00" x2="362.66" y2="517.00" stroke="#222" stroke-width="0.85" />
<line x1="379.99" y1="517.00" x2="382.59" y2="517.00" stroke="#222" stroke-width="0.85" />
<line x1="399.92" y1="517.00" x2="402.52" y2="517.00" stroke="#222" stroke-width="0.85" />
<line x1="419.85" y1="517.00" x2="422.45" y2="517.00" stroke="#222" stroke-width="0.85" />
<line x1="439.78" y1="517.00" x2="442.38" y2="517.00" stroke="#222" stroke-width="0.85" />
<line x1="459.71" y1="517.00" x2="462.31" y2="517.00" stroke="#222" stroke-width="0.85" />
<text x="287" y="530.2" font-size="9.0" text-anchor="middle" fill="#111" stroke="#111" stroke-width="0.12" >M0DEs</text>
<line x1="320.20" y1="527.60" x2="322.80" y2="527.60" stroke="#222" stroke-width="0.85" />
<line x1="339.33" y1="527.60" x2="343.53" y2="527.60" stroke="#111" stroke-width="1.0" />
<line x1="341.43" y1="525.50" x2="341.43" y2="529.70" stroke="#111" stroke-width="1.0" />
<line x1="360.06" y1="527.60" x2="362.66" y2="527.60" stroke="#222" stroke-width="0.85" />
<line x1="379.99" y1="527.60" x2="382.59" y2="527.60" stroke="#222" stroke-width="0.85" />
<line x1="399.92" y1="527.60" x2="402.52" y2="527.60" stroke="#222" stroke-width="0.85" />
<line x1="419.85" y1="527.60" x2="422.45" y2="527.60" stroke="#222" stroke-width="0.85" />
<line x1="439.78" y1="527.60" x2="442.38" y2="527.60" stroke="#222" stroke-width="0.85" />
<line x1="459.71" y1="527.60" x2="462.31" y2="527.60" stroke="#222" stroke-width="0.85" />
<text x="287" y="540.8" font-size="9.0" text-anchor="middle" fill="#111" stroke="#111" stroke-width="0.12" >M2DEs</text>
<line x1="320.20" y1="538.20" x2="322.80" y2="538.20" stroke="#222" stroke-width="0.85" />
<line x1="340.13" y1="538.20" x2="342.73" y2="538.20" stroke="#222" stroke-width="0.85" />
<line x1="359.26" y1="538.20" x2="363.46" y2="538.20" stroke="#111" stroke-width="1.0" />
<line x1="361.36" y1="536.10" x2="361.36" y2="540.30" stroke="#111" stroke-width="1.0" />
<line x1="379.99" y1="538.20" x2="382.59" y2="538.20" stroke="#222" stroke-width="0.85" />
<line x1="399.92" y1="538.20" x2="402.52" y2="538.20" stroke="#222" stroke-width="0.85" />
<line x1="419.85" y1="538.20" x2="422.45" y2="538.20" stroke="#222" stroke-width="0.85" />
<line x1="439.78" y1="538.20" x2="442.38" y2="538.20" stroke="#222" stroke-width="0.85" />
<line x1="459.71" y1="538.20" x2="462.31" y2="538.20" stroke="#222" stroke-width="0.85" />
<text x="287" y="551.4" font-size="9.0" text-anchor="middle" fill="#111" stroke="#111" stroke-width="0.12" >I</text>
<line x1="320.20" y1="548.80" x2="322.80" y2="548.80" stroke="#222" stroke-width="0.85" />
<line x1="340.13" y1="548.80" x2="342.73" y2="548.80" stroke="#222" stroke-width="0.85" />
<line x1="360.06" y1="548.80" x2="362.66" y2="548.80" stroke="#222" stroke-width="0.85" />
<line x1="379.19" y1="548.80" x2="383.39" y2="548.80" stroke="#111" stroke-width="1.0" />
<line x1="381.29" y1="546.70" x2="381.29" y2="550.90" stroke="#111" stroke-width="1.0" />
<line x1="399.92" y1="548.80" x2="402.52" y2="548.80" stroke="#222" stroke-width="0.85" />
<line x1="419.85" y1="548.80" x2="422.45" y2="548.80" stroke="#222" stroke-width="0.85" />
<line x1="439.78" y1="548.80" x2="442.38" y2="548.80" stroke="#222" stroke-width="0.85" />
<line x1="459.71" y1="548.80" x2="462.31" y2="548.80" stroke="#222" stroke-width="0.85" />
<text x="287" y="562.0" font-size="9.0" text-anchor="middle" fill="#111" stroke="#111" stroke-width="0.12" >II</text>
<line x1="320.20" y1="559.40" x2="322.80" y2="559.40" stroke="#222" stroke-width="0.85" />
<line x1="340.13" y1="559.40" x2="342.73" y2="559.40" stroke="#222" stroke-width="0.85" />
<line x1="360.06" y1="559.40" x2="362.66" y2="559.40" stroke="#222" stroke-width="0.85" />
<line x1="379.99" y1="559.40" x2="382.59" y2="559.40" stroke="#222" stroke-width="0.85" />
<line x1="399.12" y1="559.40" x2="403.32" y2="559.40" stroke="#111" stroke-width="1.0" />
<line x1="401.22" y1="557.30" x2="401.22" y2="561.50" stroke="#111" stroke-width="1.0" />
<line x1="419.85" y1="559.40" x2="422.45" y2="559.40" stroke="#222" stroke-width="0.85" />
<line x1="439.78" y1="559.40" x2="442.38" y2="559.40" stroke="#222" stroke-width="0.85" />
<line x1="459.71" y1="559.40" x2="462.31" y2="559.40" stroke="#222" stroke-width="0.85" />
<text x="287" y="572.6" font-size="9.0" text-anchor="middle" fill="#111" stroke="#111" stroke-width="0.12" >III</text>
<line x1="320.20" y1="570.00" x2="322.80" y2="570.00" stroke="#222" stroke-width="0.85" />
<line x1="340.13" y1="570.00" x2="342.73" y2="570.00" stroke="#222" stroke-width="0.85" />
<line x1="360.06" y1="570.00" x2="362.66" y2="570.00" stroke="#222" stroke-width="0.85" />
<line x1="379.99" y1="570.00" x2="382.59" y2="570.00" stroke="#222" stroke-width="0.85" />
<line x1="399.92" y1="570.00" x2="402.52" y2="570.00" stroke="#222" stroke-width="0.85" />
<line x1="419.05" y1="570.00" x2="423.25" y2="570.00" stroke="#111" stroke-width="1.0" />
<line x1="421.15" y1="567.90" x2="421.15" y2="572.10" stroke="#111" stroke-width="1.0" />
<line x1="439.78" y1="570.00" x2="442.38" y2="570.00" stroke="#222" stroke-width="0.85" />
<line x1="459.71" y1="570.00" x2="462.31" y2="570.00" stroke="#222" stroke-width="0.85" />
<text x="287" y="583.2" font-size="9.0" text-anchor="middle" fill="#111" stroke="#111" stroke-width="0.12" >IV</text>
<line x1="320.20" y1="580.60" x2="322.80" y2="580.60" stroke="#222" stroke-width="0.85" />
<line x1="340.13" y1="580.60" x2="342.73" y2="580.60" stroke="#222" stroke-width="0.85" />
<line x1="360.06" y1="580.60" x2="362.66" y2="580.60" stroke="#222" stroke-width="0.85" />
<line x1="379.99" y1="580.60" x2="382.59" y2="580.60" stroke="#222" stroke-width="0.85" />
<line x1="399.92" y1="580.60" x2="402.52" y2="580.60" stroke="#222" stroke-width="0.85" />
<line x1="419.85" y1="580.60" x2="422.45" y2="580.60" stroke="#222" stroke-width="0.85" />
<line x1="438.98" y1="580.60" x2="443.18" y2="580.60" stroke="#111" stroke-width="1.0" />
<line x1="441.08" y1="578.50" x2="441.08" y2="582.70" stroke="#111" stroke-width="1.0" />
<line x1="459.71" y1="580.60" x2="462.31" y2="580.60" stroke="#222" stroke-width="0.85" />
<text x="287" y="593.8" font-size="9.0" text-anchor="middle" fill="#111" stroke="#111" stroke-width="0.12" >V</text>
<line x1="320.20" y1="591.20" x2="322.80" y2="591.20" stroke="#222" stroke-width="0.85" />
<line x1="340.13" y1="591.20" x2="342.73" y2="591.20" stroke="#222" stroke-width="0.85" />
<line x1="360.06" y1="591.20" x2="362.66" y2="591.20" stroke="#222" stroke-width="0.85" />
<line x1="379.99" y1="591.20" x2="382.59" y2="591.20" stroke="#222" stroke-width="0.85" />
<line x1="399.92" y1="591.20" x2="402.52" y2="591.20" stroke="#222" stroke-width="0.85" />
<line x1="419.85" y1="591.20" x2="422.45" y2="591.20" stroke="#222" stroke-width="0.85" />
<line x1="439.78" y1="591.20" x2="442.38" y2="591.20" stroke="#222" stroke-width="0.85" />
<line x1="458.91" y1="591.20" x2="463.11" y2="591.20" stroke="#111" stroke-width="1.0" />
<line x1="461.01" y1="589.10" x2="461.01" y2="593.30" stroke="#111" stroke-width="1.0" />
<text x="31" y="618" font-size="10.4" text-anchor="middle" fill="#111" stroke="#111" stroke-width="0.15" >CD44</text>
<text x="31" y="650.8" font-size="10.4" text-anchor="middle" fill="#111" stroke="#111" stroke-width="0.15" >YKL40</text>
<text x="31" y="682.5" font-size="10.4" text-anchor="middle" fill="#111" stroke="#111" stroke-width="0.15" >SOX2</text>
<text x="31" y="715" font-size="10.4" text-anchor="middle" fill="#111" stroke="#111" stroke-width="0.15" >β-Actin</text>
<defs>
<filter id="b1" x="-30%" y="-60%" width="160%" height="220%"><feGaussianBlur stdDeviation="0.8"/></filter>
<filter id="b2" x="-30%" y="-60%" width="160%" height="220%"><feGaussianBlur stdDeviation="1.3"/></filter>
<filter id="b3" x="-30%" y="-60%" width="160%" height="220%"><feGaussianBlur stdDeviation="2.0"/></filter>
<filter id="b4" x="-30%" y="-60%" width="160%" height="220%"><feGaussianBlur stdDeviation="3.0"/></filter>
<filter id="b0" x="-30%" y="-60%" width="160%" height="220%"><feGaussianBlur stdDeviation="0.5"/></filter>
<filter id="noise" x="0" y="0" width="100%" height="100%"><feTurbulence type="fractalNoise" baseFrequency="0.85" numOctaves="2" seed="5"/><feColorMatrix type="matrix" values="0 0 0 0 0.15  0 0 0 0 0.15  0 0 0 0 0.15  1.6 0 0 0 -0.62"/></filter>
</defs>
<clipPath id="cl1"><rect x="51.8" y="599.5" width="171.2" height="28.5"/></clipPath>
<rect x="51.80" y="599.50" width="171.20" height="28.50" fill="#d8d6d4" />
<g clip-path="url(#cl1)">
<rect x="97.00" y="606.00" width="18.00" height="18.00" rx="3.00" fill="#8a8886" opacity="0.6" filter="url(#b3)"/>
<rect x="98.50" y="609.00" width="15.00" height="12.50" rx="3.00" fill="#0a0a0a" opacity="1.0" filter="url(#b2)"/>
<rect x="137.00" y="605.00" width="20.00" height="16.00" rx="3.00" fill="#8a8886" opacity="0.6" filter="url(#b3)"/>
<rect x="139.00" y="607.60" width="16.00" height="11.00" rx="3.00" fill="#080808" opacity="1.0" filter="url(#b2)"/>
<rect x="159.00" y="606.00" width="17.00" height="13.00" rx="3.00" fill="#9a9896" opacity="0.5" filter="url(#b3)"/>
<rect x="160.00" y="607.40" width="15.00" height="9.40" rx="3.00" fill="#1c1c1c" opacity="1.0" filter="url(#b2)"/>
<rect x="180.00" y="604.00" width="17.00" height="13.00" rx="3.00" fill="#9a9896" opacity="0.5" filter="url(#b3)"/>
<rect x="181.00" y="605.60" width="15.00" height="9.60" rx="3.00" fill="#3a3a3a" opacity="1.0" filter="url(#b2)"/>
<rect x="199.00" y="601.00" width="21.00" height="19.00" rx="3.00" fill="#7a7876" opacity="0.7" filter="url(#b3)"/>
<rect x="201.00" y="604.00" width="17.00" height="12.50" rx="3.00" fill="#050505" opacity="1.0" filter="url(#b2)"/>
</g>
<rect x="51.80" y="599.50" width="171.20" height="28.50" fill="#000" filter="url(#noise)" opacity="0.15"/>
<rect x="51.80" y="599.50" width="171.20" height="28.50" fill="none" stroke="#5a5a5a" stroke-width="0.9"/>
<clipPath id="cl2"><rect x="51.8" y="632.5" width="171.2" height="28.0"/></clipPath>
<rect x="51.80" y="632.50" width="171.20" height="28.00" fill="#d6d4d2" />
<g clip-path="url(#cl2)">
<rect x="100.00" y="644.00" width="15.50" height="5.20" rx="2.60" fill="#050505" opacity="1.0" filter="url(#b1)"/>
<rect x="141.00" y="644.00" width="15.00" height="4.60" rx="2.30" fill="#050505" opacity="1.0" filter="url(#b1)"/>
<rect x="161.00" y="644.80" width="15.00" height="3.60" rx="1.80" fill="#0a0a0a" opacity="1.0" filter="url(#b0)"/>
<rect x="182.50" y="644.20" width="15.00" height="3.60" rx="1.80" fill="#0a0a0a" opacity="1.0" filter="url(#b0)"/>
<rect x="202.50" y="642.20" width="16.50" height="5.80" rx="2.90" fill="#030303" opacity="1.0" filter="url(#b1)"/>
</g>
<rect x="51.80" y="632.50" width="171.20" height="28.00" fill="#000" filter="url(#noise)" opacity="0.15"/>
<rect x="51.80" y="632.50" width="171.20" height="28.00" fill="none" stroke="#5a5a5a" stroke-width="0.9"/>
<clipPath id="cl3"><rect x="51.8" y="665.8" width="171.2" height="26.200000000000045"/></clipPath>
<rect x="51.80" y="665.80" width="171.20" height="26.20" fill="#cfcdcb" />
<g clip-path="url(#cl3)">
<rect x="55.50" y="673.50" width="17.50" height="7.70" rx="3.00" fill="#0a0a0a" opacity="1.0" filter="url(#b2)"/>
<rect x="77.00" y="673.80" width="15.50" height="7.60" rx="3.00" fill="#0a0a0a" opacity="1.0" filter="url(#b2)"/>
<rect x="98.00" y="676.50" width="14.50" height="5.50" rx="2.75" fill="#5a5856" opacity="1.0" filter="url(#b2)"/>
<rect x="119.50" y="674.80" width="15.00" height="7.80" rx="3.00" fill="#0a0a0a" opacity="1.0" filter="url(#b2)"/>
<rect x="139.50" y="677.30" width="15.00" height="5.30" rx="2.65" fill="#2c2c2c" opacity="1.0" filter="url(#b2)"/>
<rect x="159.50" y="677.30" width="16.00" height="6.50" rx="3.00" fill="#1c1c1c" opacity="1.0" filter="url(#b2)"/>
<rect x="180.50" y="677.80" width="15.50" height="6.80" rx="3.00" fill="#222" opacity="1.0" filter="url(#b2)"/>
<rect x="201.50" y="680.20" width="15.50" height="4.20" rx="2.10" fill="#7a7876" opacity="1.0" filter="url(#b2)"/>
</g>
<rect x="51.80" y="665.80" width="171.20" height="26.20" fill="#000" filter="url(#noise)" opacity="0.15"/>
<rect x="51.80" y="665.80" width="171.20" height="26.20" fill="none" stroke="#5a5a5a" stroke-width="0.9"/>
<clipPath id="cl4"><rect x="51.8" y="697" width="171.2" height="26.799999999999955"/></clipPath>
<rect x="51.80" y="697.00" width="171.20" height="26.80" fill="#d1cfcd" />
<g clip-path="url(#cl4)">
<rect x="55.00" y="708.60" width="22.00" height="7.00" rx="3.00" fill="#555" opacity="0.5" filter="url(#b3)"/>
<rect x="56.00" y="708.00" width="19.50" height="8.40" rx="3.00" fill="#050505" opacity="1.0" filter="url(#b1)"/>
<rect x="79.00" y="708.80" width="16.50" height="6.60" rx="3.00" fill="#0c0c0c" opacity="1.0" filter="url(#b1)"/>
<rect x="98.50" y="709.40" width="15.50" height="5.40" rx="2.70" fill="#1e1e1e" opacity="1.0" filter="url(#b1)"/>
<rect x="118.50" y="707.80" width="17.50" height="6.60" rx="3.00" fill="#080808" opacity="1.0" filter="url(#b1)"/>
<rect x="138.50" y="706.60" width="18.00" height="7.20" rx="3.00" fill="#050505" opacity="1.0" filter="url(#b1)"/>
<rect x="158.50" y="706.40" width="18.00" height="7.20" rx="3.00" fill="#050505" opacity="1.0" filter="url(#b1)"/>
<rect x="179.00" y="706.20" width="17.50" height="7.00" rx="3.00" fill="#080808" opacity="1.0" filter="url(#b1)"/>
<rect x="199.50" y="705.40" width="18.50" height="6.40" rx="3.00" fill="#1c1c1c" opacity="1.0" filter="url(#b1)"/>
</g>
<rect x="51.80" y="697.00" width="171.20" height="26.80" fill="#000" filter="url(#noise)" opacity="0.15"/>
<rect x="51.80" y="697.00" width="171.20" height="26.80" fill="none" stroke="#5a5a5a" stroke-width="0.9"/>
<clipPath id="cr1"><rect x="301.3" y="599.5" width="171.2" height="27.5"/></clipPath>
<rect x="301.30" y="599.50" width="171.20" height="27.50" fill="#cfcdcb" />
<g clip-path="url(#cr1)">
<rect x="308.00" y="594.00" width="44.00" height="38.00" rx="3.00" fill="#f2f2f2" opacity="0.95" filter="url(#b4)"/>
<rect x="352.00" y="607.00" width="19.00" height="14.00" rx="3.00" fill="#9a9896" opacity="0.5" filter="url(#b3)"/>
<rect x="354.00" y="610.40" width="15.50" height="7.00" rx="3.00" fill="#161616" opacity="1.0" filter="url(#b2)"/>
<path d="M356 608 V621" stroke="#222" stroke-width="1.2" fill="none" filter="url(#b0)"/>
<rect x="374.00" y="610.60" width="16.00" height="6.40" rx="3.00" fill="#222" opacity="1.0" filter="url(#b2)"/>
<rect x="394.00" y="610.20" width="15.50" height="6.00" rx="3.00" fill="#444" opacity="1.0" filter="url(#b2)"/>
<rect x="414.50" y="609.60" width="15.00" height="6.00" rx="3.00" fill="#555" opacity="1.0" filter="url(#b2)"/>
<rect x="435.00" y="609.60" width="14.50" height="6.00" rx="3.00" fill="#666" opacity="1.0" filter="url(#b2)"/>
<rect x="454.50" y="608.80" width="15.00" height="6.20" rx="3.00" fill="#6e6e6e" opacity="1.0" filter="url(#b2)"/>
</g>
<rect x="301.30" y="599.50" width="171.20" height="27.50" fill="#000" filter="url(#noise)" opacity="0.15"/>
<rect x="301.30" y="599.50" width="171.20" height="27.50" fill="none" stroke="#5a5a5a" stroke-width="0.9"/>
<clipPath id="cr2"><rect x="301.3" y="632" width="171.2" height="28.5"/></clipPath>
<rect x="301.30" y="632.00" width="171.20" height="28.50" fill="#d1cfcd" />
<g clip-path="url(#cr2)">
<circle cx="357.1" cy="637.0" r="0.3" fill="#333" opacity="0.9"/>
<circle cx="318.2" cy="648.4" r="0.35" fill="#333" opacity="0.5"/>
<circle cx="316.8" cy="644.1" r="0.35" fill="#333" opacity="0.5"/>
<circle cx="395.5" cy="634.6" r="0.35" fill="#333" opacity="0.9"/>
<circle cx="408.5" cy="658.1" r="0.55" fill="#333" opacity="0.5"/>
<circle cx="467.5" cy="634.2" r="0.45" fill="#333" opacity="0.7"/>
<circle cx="326.7" cy="636.1" r="0.45" fill="#333" opacity="0.9"/>
<circle cx="440.4" cy="637.8" r="0.35" fill="#333" opacity="0.7"/>
<circle cx="318.8" cy="651.9" r="0.3" fill="#333" opacity="0.9"/>
<circle cx="337.1" cy="651.0" r="0.55" fill="#333" opacity="0.7"/>
<circle cx="344.3" cy="637.8" r="0.35" fill="#333" opacity="0.5"/>
<circle cx="399.5" cy="646.9" r="0.55" fill="#333" opacity="0.7"/>
<circle cx="405.3" cy="634.9" r="0.35" fill="#333" opacity="0.7"/>
<circle cx="328.0" cy="646.0" r="0.3" fill="#333" opacity="0.9"/>
<circle cx="315.4" cy="647.8" r="0.45" fill="#333" opacity="0.7"/>
<circle cx="419.9" cy="648.8" r="0.55" fill="#333" opacity="0.5"/>
<circle cx="444.4" cy="658.0" r="0.3" fill="#333" opacity="0.5"/>
<circle cx="426.0" cy="641.2" r="0.55" fill="#333" opacity="0.7"/>
<circle cx="461.5" cy="642.4" r="0.55" fill="#333" opacity="0.5"/>
<circle cx="339.2" cy="640.6" r="0.35" fill="#333" opacity="0.7"/>
<circle cx="378.3" cy="647.6" r="0.55" fill="#333" opacity="0.9"/>
<circle cx="349.4" cy="644.0" r="0.45" fill="#333" opacity="0.9"/>
<circle cx="332.1" cy="639.1" r="0.35" fill="#333" opacity="0.5"/>
<circle cx="303.0" cy="644.1" r="0.45" fill="#333" opacity="0.9"/>
<circle cx="398.1" cy="658.3" r="0.3" fill="#333" opacity="0.7"/>
<circle cx="454.5" cy="653.7" r="0.55" fill="#333" opacity="0.7"/>
<circle cx="369.8" cy="635.7" r="0.3" fill="#333" opacity="0.5"/>
<circle cx="313.7" cy="638.5" r="0.35" fill="#333" opacity="0.5"/>
<circle cx="327.9" cy="635.7" r="0.45" fill="#333" opacity="0.9"/>
<circle cx="306.6" cy="656.2" r="0.55" fill="#333" opacity="0.5"/>
<circle cx="409.6" cy="658.3" r="0.55" fill="#333" opacity="0.5"/>
<circle cx="321.8" cy="645.9" r="0.55" fill="#333" opacity="0.7"/>
<circle cx="360.3" cy="640.0" r="0.35" fill="#333" opacity="0.9"/>
<circle cx="306.2" cy="658.2" r="0.45" fill="#333" opacity="0.5"/>
<circle cx="419.1" cy="657.2" r="0.45" fill="#333" opacity="0.9"/>
<circle cx="364.3" cy="637.4" r="0.45" fill="#333" opacity="0.9"/>
<circle cx="340.0" cy="654.5" r="0.35" fill="#333" opacity="0.5"/>
<circle cx="307.0" cy="640.4" r="0.45" fill="#333" opacity="0.5"/>
<circle cx="460.8" cy="659.2" r="0.45" fill="#333" opacity="0.5"/>
<circle cx="339.6" cy="639.0" r="0.35" fill="#333" opacity="0.7"/>
<circle cx="336.9" cy="649.5" r="0.3" fill="#333" opacity="0.7"/>
<circle cx="456.1" cy="642.1" r="0.3" fill="#333" opacity="0.7"/>
<circle cx="434.7" cy="652.9" r="0.35" fill="#333" opacity="0.7"/>
<circle cx="435.8" cy="641.8" r="0.55" fill="#333" opacity="0.7"/>
<circle cx="370.2" cy="658.1" r="0.35" fill="#333" opacity="0.5"/>
<circle cx="307.0" cy="648.7" r="0.55" fill="#333" opacity="0.9"/>
<circle cx="327.0" cy="654.9" r="0.55" fill="#333" opacity="0.9"/>
<circle cx="460.9" cy="637.1" r="0.3" fill="#333" opacity="0.5"/>
<circle cx="429.1" cy="636.7" r="0.35" fill="#333" opacity="0.5"/>
<circle cx="307.0" cy="638.6" r="0.35" fill="#333" opacity="0.9"/>
<circle cx="357.5" cy="647.4" r="0.3" fill="#333" opacity="0.9"/>
<circle cx="362.2" cy="645.1" r="0.55" fill="#333" opacity="0.9"/>
<circle cx="324.4" cy="637.0" r="0.3" fill="#333" opacity="0.7"/>
<circle cx="433.7" cy="649.1" r="0.35" fill="#333" opacity="0.5"/>
<circle cx="326.3" cy="649.4" r="0.3" fill="#333" opacity="0.9"/>
<circle cx="312.7" cy="651.1" r="0.55" fill="#333" opacity="0.5"/>
<circle cx="309.4" cy="635.6" r="0.55" fill="#333" opacity="0.9"/>
<circle cx="307.0" cy="656.7" r="0.3" fill="#333" opacity="0.7"/>
<circle cx="357.4" cy="658.8" r="0.35" fill="#333" opacity="0.9"/>
<circle cx="349.2" cy="646.5" r="0.55" fill="#333" opacity="0.9"/>
<circle cx="461.6" cy="651.5" r="0.45" fill="#333" opacity="0.9"/>
<circle cx="353.5" cy="636.2" r="0.45" fill="#333" opacity="0.5"/>
<circle cx="345.1" cy="636.6" r="0.55" fill="#333" opacity="0.5"/>
<circle cx="428.6" cy="635.5" r="0.35" fill="#333" opacity="0.9"/>
<circle cx="358.4" cy="649.5" r="0.3" fill="#333" opacity="0.5"/>
<circle cx="469.0" cy="653.9" r="0.3" fill="#333" opacity="0.5"/>
<circle cx="347.2" cy="634.0" r="0.35" fill="#333" opacity="0.7"/>
<circle cx="430.2" cy="654.7" r="0.45" fill="#333" opacity="0.7"/>
<circle cx="327.6" cy="657.4" r="0.55" fill="#333" opacity="0.9"/>
<circle cx="357.6" cy="640.4" r="0.35" fill="#333" opacity="0.7"/>
<circle cx="317.3" cy="639.9" r="0.35" fill="#333" opacity="0.5"/>
<circle cx="347.0" cy="636.2" r="0.3" fill="#333" opacity="0.7"/>
<circle cx="470.5" cy="644.1" r="0.35" fill="#333" opacity="0.5"/>
<circle cx="329.6" cy="634.3" r="0.35" fill="#333" opacity="0.7"/>
<circle cx="305.4" cy="646.4" r="0.35" fill="#333" opacity="0.9"/>
<circle cx="440.9" cy="644.5" r="0.55" fill="#333" opacity="0.9"/>
<circle cx="335.9" cy="656.4" r="0.35" fill="#333" opacity="0.7"/>
<circle cx="469.7" cy="659.0" r="0.3" fill="#333" opacity="0.5"/>
<circle cx="311.7" cy="650.6" r="0.55" fill="#333" opacity="0.9"/>
<circle cx="377.7" cy="640.0" r="0.45" fill="#333" opacity="0.5"/>
<circle cx="308.1" cy="656.4" r="0.35" fill="#333" opacity="0.7"/>
<circle cx="333.3" cy="641.9" r="0.3" fill="#333" opacity="0.7"/>
<circle cx="349.5" cy="650.4" r="0.35" fill="#333" opacity="0.9"/>
<circle cx="433.6" cy="635.4" r="0.35" fill="#333" opacity="0.7"/>
<circle cx="408.8" cy="635.2" r="0.35" fill="#333" opacity="0.9"/>
<circle cx="453.4" cy="653.8" r="0.45" fill="#333" opacity="0.9"/>
<circle cx="468.9" cy="637.0" r="0.35" fill="#333" opacity="0.5"/>
<circle cx="441.9" cy="651.9" r="0.55" fill="#333" opacity="0.9"/>
<circle cx="420.9" cy="646.4" r="0.3" fill="#333" opacity="0.9"/>
<circle cx="401.1" cy="656.7" r="0.35" fill="#333" opacity="0.5"/>
<circle cx="307.6" cy="636.5" r="0.45" fill="#333" opacity="0.5"/>
<circle cx="305.5" cy="647.1" r="0.35" fill="#333" opacity="0.7"/>
<circle cx="346.9" cy="645.1" r="0.3" fill="#333" opacity="0.9"/>
<circle cx="391.3" cy="652.8" r="0.3" fill="#333" opacity="0.7"/>
<circle cx="342.0" cy="653.0" r="0.35" fill="#333" opacity="0.9"/>
<circle cx="412.3" cy="645.2" r="0.3" fill="#333" opacity="0.7"/>
<circle cx="409.4" cy="638.3" r="0.45" fill="#333" opacity="0.7"/>
<circle cx="412.5" cy="651.4" r="0.35" fill="#333" opacity="0.5"/>
<circle cx="383.9" cy="645.9" r="0.3" fill="#333" opacity="0.9"/>
<circle cx="339.1" cy="646.0" r="0.45" fill="#333" opacity="0.7"/>
<circle cx="381.1" cy="653.3" r="0.35" fill="#333" opacity="0.7"/>
<circle cx="380.0" cy="654.7" r="0.55" fill="#333" opacity="0.7"/>
<circle cx="367.8" cy="657.3" r="0.3" fill="#333" opacity="0.9"/>
<circle cx="317.6" cy="652.8" r="0.45" fill="#333" opacity="0.7"/>
<circle cx="324.7" cy="654.7" r="0.45" fill="#333" opacity="0.5"/>
<circle cx="421.3" cy="639.1" r="0.55" fill="#333" opacity="0.7"/>
<circle cx="306.5" cy="633.1" r="0.55" fill="#333" opacity="0.9"/>
<circle cx="360.5" cy="641.4" r="0.3" fill="#333" opacity="0.7"/>
<circle cx="459.0" cy="651.9" r="0.45" fill="#333" opacity="0.7"/>
<circle cx="365.3" cy="643.4" r="0.3" fill="#333" opacity="0.7"/>
<circle cx="458.9" cy="653.0" r="0.45" fill="#333" opacity="0.5"/>
<circle cx="311.0" cy="650.5" r="0.35" fill="#333" opacity="0.5"/>
<circle cx="307.2" cy="653.2" r="0.55" fill="#333" opacity="0.9"/>
<circle cx="426.2" cy="644.9" r="0.45" fill="#333" opacity="0.7"/>
<circle cx="310.6" cy="657.6" r="0.35" fill="#333" opacity="0.5"/>
<circle cx="413.3" cy="641.0" r="0.55" fill="#333" opacity="0.5"/>
<circle cx="330.6" cy="637.3" r="0.35" fill="#333" opacity="0.9"/>
<circle cx="325.9" cy="638.1" r="0.3" fill="#333" opacity="0.5"/>
<circle cx="346.0" cy="648.1" r="0.3" fill="#333" opacity="0.9"/>
<circle cx="449.6" cy="643.1" r="0.35" fill="#333" opacity="0.7"/>
<circle cx="348.0" cy="652.9" r="0.55" fill="#333" opacity="0.7"/>
<circle cx="399.5" cy="642.5" r="0.35" fill="#333" opacity="0.5"/>
<circle cx="348.2" cy="639.6" r="0.55" fill="#333" opacity="0.9"/>
<circle cx="377.7" cy="658.3" r="0.3" fill="#333" opacity="0.5"/>
<circle cx="307.8" cy="651.8" r="0.55" fill="#333" opacity="0.9"/>
<rect x="353.50" y="642.00" width="18.00" height="7.00" rx="3.00" fill="#030303" opacity="1.0" filter="url(#b0)"/>
<path d="M374 646 Q376 642 380 641 Q383 638.4 386 640.6 Q390 643 391.5 646 Q390 649.6 385 650 Q378 651 374 646 Z" fill="#050505" filter="url(#b0)"/>
<rect x="394.50" y="645.00" width="15.50" height="4.40" rx="2.20" fill="#080808" opacity="1.0" filter="url(#b0)"/>
<rect x="416.50" y="646.80" width="13.50" height="2.60" rx="1.30" fill="#141414" opacity="1.0" filter="url(#b0)"/>
<rect x="436.50" y="647.80" width="13.50" height="3.20" rx="1.60" fill="#141414" opacity="1.0" filter="url(#b0)"/>
<rect x="456.50" y="648.80" width="13.00" height="2.40" rx="1.20" fill="#1a1a1a" opacity="1.0" filter="url(#b0)"/>
</g>
<rect x="301.30" y="632.00" width="171.20" height="28.50" fill="#000" filter="url(#noise)" opacity="0.15"/>
<rect x="301.30" y="632.00" width="171.20" height="28.50" fill="none" stroke="#5a5a5a" stroke-width="0.9"/>
<linearGradient id="sg" x1="0" x2="1" y1="0" y2="0"><stop offset="0" stop-color="#b6b4b6"/><stop offset="0.5" stop-color="#aeacae"/><stop offset="1" stop-color="#747274"/></linearGradient>
<clipPath id="cr3"><rect x="301.3" y="665" width="171.2" height="26.299999999999955"/></clipPath>
<rect x="301.30" y="665.00" width="171.20" height="26.30" fill="url(#sg)" />
<g clip-path="url(#cr3)">
<rect x="301.30" y="665.00" width="171.20" height="2.20" fill="#2a2a2a" filter="url(#b1)"/>
<rect x="304.00" y="670.00" width="19.00" height="14.00" rx="3.00" fill="#6a686a" opacity="0.7" filter="url(#b3)"/>
<rect x="306.00" y="672.60" width="15.00" height="8.40" rx="3.00" fill="#33333a" opacity="1.0" filter="url(#b2)"/>
<rect x="326.00" y="668.00" width="20.00" height="17.00" rx="3.00" fill="#5a585a" opacity="0.8" filter="url(#b3)"/>
<rect x="328.00" y="670.40" width="15.50" height="12.00" rx="3.00" fill="#15151a" opacity="1.0" filter="url(#b2)"/>
<rect x="349.00" y="673.00" width="16.00" height="10.00" rx="3.00" fill="#8a888a" opacity="0.6" filter="url(#b3)"/>
<rect x="370.00" y="673.00" width="16.00" height="10.00" rx="3.00" fill="#908e90" opacity="0.5" filter="url(#b3)"/>
<rect x="388.00" y="669.00" width="20.00" height="15.00" rx="3.00" fill="#6a686a" opacity="0.7" filter="url(#b3)"/>
<rect x="390.50" y="671.40" width="15.50" height="9.60" rx="3.00" fill="#36363c" opacity="1.0" filter="url(#b2)"/>
<rect x="409.00" y="669.00" width="18.00" height="15.00" rx="3.00" fill="#6a686a" opacity="0.7" filter="url(#b3)"/>
<rect x="411.00" y="671.20" width="14.00" height="9.80" rx="3.00" fill="#34343a" opacity="1.0" filter="url(#b2)"/>
<rect x="428.00" y="666.00" width="18.00" height="19.00" rx="3.00" fill="#5a585a" opacity="0.8" filter="url(#b3)"/>
<rect x="430.50" y="668.00" width="13.00" height="14.40" rx="3.00" fill="#2a2a30" opacity="1.0" filter="url(#b2)"/>
<rect x="450.00" y="665.00" width="22.00" height="22.00" rx="3.00" fill="#4a484a" opacity="0.9" filter="url(#b3)"/>
<rect x="454.00" y="668.80" width="15.50" height="14.80" rx="3.00" fill="#18181c" opacity="1.0" filter="url(#b2)"/>
</g>
<rect x="301.30" y="665.00" width="171.20" height="26.30" fill="#000" filter="url(#noise)" opacity="0.15"/>
<rect x="301.30" y="665.00" width="171.20" height="26.30" fill="none" stroke="#333" stroke-width="0.9"/>
<clipPath id="cr4"><rect x="301.3" y="697" width="171.2" height="26.799999999999955"/></clipPath>
<rect x="301.30" y="697.00" width="171.20" height="26.80" fill="#d0cecc" />
<g clip-path="url(#cr4)">
<rect x="306.50" y="708.00" width="19.00" height="8.60" rx="3.00" fill="#050505" opacity="1.0" filter="url(#b1)"/>
<rect x="329.00" y="709.20" width="17.50" height="6.60" rx="3.00" fill="#0a0a0a" opacity="1.0" filter="url(#b1)"/>
<rect x="349.00" y="708.80" width="18.50" height="6.60" rx="3.00" fill="#080808" opacity="1.0" filter="url(#b1)"/>
<rect x="369.50" y="709.20" width="18.00" height="6.20" rx="3.00" fill="#0a0a0a" opacity="1.0" filter="url(#b1)"/>
<rect x="389.50" y="708.80" width="18.50" height="7.00" rx="3.00" fill="#080808" opacity="1.0" filter="url(#b1)"/>
<rect x="411.50" y="709.20" width="17.00" height="6.60" rx="3.00" fill="#080808" opacity="1.0" filter="url(#b1)"/>
<rect x="432.50" y="709.40" width="17.50" height="6.40" rx="3.00" fill="#080808" opacity="1.0" filter="url(#b1)"/>
<rect x="453.50" y="710.20" width="17.00" height="6.60" rx="3.00" fill="#080808" opacity="1.0" filter="url(#b1)"/>
</g>
<rect x="301.30" y="697.00" width="171.20" height="26.80" fill="#000" filter="url(#noise)" opacity="0.15"/>
<rect x="301.30" y="697.00" width="171.20" height="26.80" fill="none" stroke="#5a5a5a" stroke-width="0.9"/>
</svg>
</body></html>
